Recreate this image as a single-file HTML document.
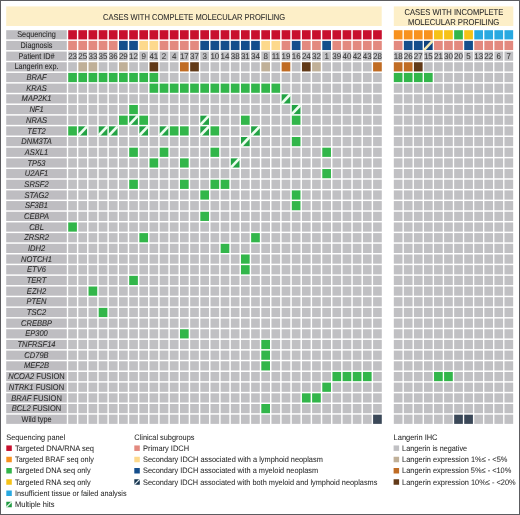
<!DOCTYPE html>
<html><head><meta charset="utf-8"><style>
html,body{margin:0;padding:0;background:#fff;}
body{width:520px;height:515px;overflow:hidden;}
svg{display:block;font-family:"Liberation Sans",sans-serif;will-change:transform;text-rendering:geometricPrecision;}
</style></head><body>
<svg width="520" height="515" viewBox="0 0 520 515">
<rect x="0" y="0" width="520" height="515" fill="#ffffff"/>
<rect x="6.2" y="6.4" width="375.5" height="19.6" fill="#fdefc8"/>
<rect x="393.8" y="6.4" width="119.5" height="19.6" fill="#fdefc8"/>
<rect x="6.2" y="30.2" width="60.6" height="9.2" fill="#bebdc1"/>
<rect x="68.2" y="30.2" width="8.7" height="9.2" fill="#c8102e"/>
<rect x="78.36" y="30.2" width="8.7" height="9.2" fill="#c8102e"/>
<rect x="88.53" y="30.2" width="8.7" height="9.2" fill="#c8102e"/>
<rect x="98.69" y="30.2" width="8.7" height="9.2" fill="#c8102e"/>
<rect x="108.85" y="30.2" width="8.7" height="9.2" fill="#c8102e"/>
<rect x="119.02" y="30.2" width="8.7" height="9.2" fill="#c8102e"/>
<rect x="129.18" y="30.2" width="8.7" height="9.2" fill="#c8102e"/>
<rect x="139.34" y="30.2" width="8.7" height="9.2" fill="#c8102e"/>
<rect x="149.5" y="30.2" width="8.7" height="9.2" fill="#c8102e"/>
<rect x="159.67" y="30.2" width="8.7" height="9.2" fill="#c8102e"/>
<rect x="169.83" y="30.2" width="8.7" height="9.2" fill="#c8102e"/>
<rect x="179.99" y="30.2" width="8.7" height="9.2" fill="#c8102e"/>
<rect x="190.16" y="30.2" width="8.7" height="9.2" fill="#c8102e"/>
<rect x="200.32" y="30.2" width="8.7" height="9.2" fill="#c8102e"/>
<rect x="210.48" y="30.2" width="8.7" height="9.2" fill="#c8102e"/>
<rect x="220.64" y="30.2" width="8.7" height="9.2" fill="#c8102e"/>
<rect x="230.81" y="30.2" width="8.7" height="9.2" fill="#c8102e"/>
<rect x="240.97" y="30.2" width="8.7" height="9.2" fill="#c8102e"/>
<rect x="251.13" y="30.2" width="8.7" height="9.2" fill="#c8102e"/>
<rect x="261.3" y="30.2" width="8.7" height="9.2" fill="#c8102e"/>
<rect x="271.46" y="30.2" width="8.7" height="9.2" fill="#c8102e"/>
<rect x="281.62" y="30.2" width="8.7" height="9.2" fill="#c8102e"/>
<rect x="291.79" y="30.2" width="8.7" height="9.2" fill="#c8102e"/>
<rect x="301.95" y="30.2" width="8.7" height="9.2" fill="#c8102e"/>
<rect x="312.11" y="30.2" width="8.7" height="9.2" fill="#c8102e"/>
<rect x="322.28" y="30.2" width="8.7" height="9.2" fill="#c8102e"/>
<rect x="332.44" y="30.2" width="8.7" height="9.2" fill="#c8102e"/>
<rect x="342.6" y="30.2" width="8.7" height="9.2" fill="#c8102e"/>
<rect x="352.76" y="30.2" width="8.7" height="9.2" fill="#c8102e"/>
<rect x="362.93" y="30.2" width="8.7" height="9.2" fill="#c8102e"/>
<rect x="373.09" y="30.2" width="8.7" height="9.2" fill="#c8102e"/>
<rect x="393.8" y="30.2" width="8.7" height="9.2" fill="#f8921f"/>
<rect x="403.86" y="30.2" width="8.7" height="9.2" fill="#f8921f"/>
<rect x="413.92" y="30.2" width="8.7" height="9.2" fill="#f8921f"/>
<rect x="423.98" y="30.2" width="8.7" height="9.2" fill="#f8921f"/>
<rect x="434.04" y="30.2" width="8.7" height="9.2" fill="#f6c217"/>
<rect x="444.1" y="30.2" width="8.7" height="9.2" fill="#f6c217"/>
<rect x="454.16" y="30.2" width="8.7" height="9.2" fill="#32b64a"/>
<rect x="464.22" y="30.2" width="8.7" height="9.2" fill="#f6c217"/>
<rect x="474.28" y="30.2" width="8.7" height="9.2" fill="#28a9e1"/>
<rect x="484.34" y="30.2" width="8.7" height="9.2" fill="#28a9e1"/>
<rect x="494.4" y="30.2" width="8.7" height="9.2" fill="#28a9e1"/>
<rect x="504.46" y="30.2" width="8.7" height="9.2" fill="#28a9e1"/>
<rect x="6.2" y="40.88" width="60.6" height="9.2" fill="#bebdc1"/>
<rect x="68.2" y="40.88" width="8.7" height="9.2" fill="#e3897f"/>
<rect x="78.36" y="40.88" width="8.7" height="9.2" fill="#e3897f"/>
<rect x="88.53" y="40.88" width="8.7" height="9.2" fill="#e3897f"/>
<rect x="98.69" y="40.88" width="8.7" height="9.2" fill="#e3897f"/>
<rect x="108.85" y="40.88" width="8.7" height="9.2" fill="#e3897f"/>
<rect x="119.02" y="40.88" width="8.7" height="9.2" fill="#144e8c"/>
<rect x="129.18" y="40.88" width="8.7" height="9.2" fill="#144e8c"/>
<rect x="139.34" y="40.88" width="8.7" height="9.2" fill="#fdd98c"/>
<rect x="149.5" y="40.88" width="8.7" height="9.2" fill="#fdd98c"/>
<rect x="159.67" y="40.88" width="8.7" height="9.2" fill="#e3897f"/>
<rect x="169.83" y="40.88" width="8.7" height="9.2" fill="#e3897f"/>
<rect x="179.99" y="40.88" width="8.7" height="9.2" fill="#e3897f"/>
<rect x="190.16" y="40.88" width="8.7" height="9.2" fill="#e3897f"/>
<rect x="200.32" y="40.88" width="8.7" height="9.2" fill="#144e8c"/>
<rect x="210.48" y="40.88" width="8.7" height="9.2" fill="#144e8c"/>
<rect x="220.64" y="40.88" width="8.7" height="9.2" fill="#144e8c"/>
<rect x="230.81" y="40.88" width="8.7" height="9.2" fill="#144e8c"/>
<rect x="240.97" y="40.88" width="8.7" height="9.2" fill="#144e8c"/>
<rect x="251.13" y="40.88" width="8.7" height="9.2" fill="#144e8c"/>
<rect x="261.3" y="40.88" width="8.7" height="9.2" fill="#fdd98c"/>
<rect x="271.46" y="40.88" width="8.7" height="9.2" fill="#fdd98c"/>
<rect x="281.62" y="40.88" width="8.7" height="9.2" fill="#e3897f"/>
<rect x="291.79" y="40.88" width="8.7" height="9.2" fill="#144e8c"/>
<rect x="301.95" y="40.88" width="8.7" height="9.2" fill="#e3897f"/>
<rect x="312.11" y="40.88" width="8.7" height="9.2" fill="#e3897f"/>
<rect x="322.28" y="40.88" width="8.7" height="9.2" fill="#144e8c"/>
<rect x="332.44" y="40.88" width="8.7" height="9.2" fill="#e3897f"/>
<rect x="342.6" y="40.88" width="8.7" height="9.2" fill="#e3897f"/>
<rect x="352.76" y="40.88" width="8.7" height="9.2" fill="#e3897f"/>
<rect x="362.93" y="40.88" width="8.7" height="9.2" fill="#e3897f"/>
<rect x="373.09" y="40.88" width="8.7" height="9.2" fill="#e3897f"/>
<rect x="393.8" y="40.88" width="8.7" height="9.2" fill="#e3897f"/>
<rect x="403.86" y="40.88" width="8.7" height="9.2" fill="#144e8c"/>
<rect x="413.92" y="40.88" width="8.7" height="9.2" fill="#144e8c"/>
<rect x="423.98" y="40.88" width="8.7" height="9.2" fill="#0f427c"/>
<line x1="423.98" y1="50.08" x2="432.68" y2="40.88" stroke="#f5e8b2" stroke-width="2.5"/>
<rect x="434.04" y="40.88" width="8.7" height="9.2" fill="#e3897f"/>
<rect x="444.1" y="40.88" width="8.7" height="9.2" fill="#e3897f"/>
<rect x="454.16" y="40.88" width="8.7" height="9.2" fill="#e3897f"/>
<rect x="464.22" y="40.88" width="8.7" height="9.2" fill="#144e8c"/>
<rect x="474.28" y="40.88" width="8.7" height="9.2" fill="#e3897f"/>
<rect x="484.34" y="40.88" width="8.7" height="9.2" fill="#e3897f"/>
<rect x="494.4" y="40.88" width="8.7" height="9.2" fill="#e3897f"/>
<rect x="504.46" y="40.88" width="8.7" height="9.2" fill="#e3897f"/>
<rect x="6.2" y="51.56" width="60.6" height="9.2" fill="#bebdc1"/>
<rect x="68.2" y="51.56" width="8.7" height="9.2" fill="#c0c0c3"/>
<rect x="78.36" y="51.56" width="8.7" height="9.2" fill="#c0c0c3"/>
<rect x="88.53" y="51.56" width="8.7" height="9.2" fill="#c0c0c3"/>
<rect x="98.69" y="51.56" width="8.7" height="9.2" fill="#c0c0c3"/>
<rect x="108.85" y="51.56" width="8.7" height="9.2" fill="#c0c0c3"/>
<rect x="119.02" y="51.56" width="8.7" height="9.2" fill="#c0c0c3"/>
<rect x="129.18" y="51.56" width="8.7" height="9.2" fill="#c0c0c3"/>
<rect x="139.34" y="51.56" width="8.7" height="9.2" fill="#c0c0c3"/>
<rect x="149.5" y="51.56" width="8.7" height="9.2" fill="#c0c0c3"/>
<rect x="159.67" y="51.56" width="8.7" height="9.2" fill="#c0c0c3"/>
<rect x="169.83" y="51.56" width="8.7" height="9.2" fill="#c0c0c3"/>
<rect x="179.99" y="51.56" width="8.7" height="9.2" fill="#c0c0c3"/>
<rect x="190.16" y="51.56" width="8.7" height="9.2" fill="#c0c0c3"/>
<rect x="200.32" y="51.56" width="8.7" height="9.2" fill="#c0c0c3"/>
<rect x="210.48" y="51.56" width="8.7" height="9.2" fill="#c0c0c3"/>
<rect x="220.64" y="51.56" width="8.7" height="9.2" fill="#c0c0c3"/>
<rect x="230.81" y="51.56" width="8.7" height="9.2" fill="#c0c0c3"/>
<rect x="240.97" y="51.56" width="8.7" height="9.2" fill="#c0c0c3"/>
<rect x="251.13" y="51.56" width="8.7" height="9.2" fill="#c0c0c3"/>
<rect x="261.3" y="51.56" width="8.7" height="9.2" fill="#c0c0c3"/>
<rect x="271.46" y="51.56" width="8.7" height="9.2" fill="#c0c0c3"/>
<rect x="281.62" y="51.56" width="8.7" height="9.2" fill="#c0c0c3"/>
<rect x="291.79" y="51.56" width="8.7" height="9.2" fill="#c0c0c3"/>
<rect x="301.95" y="51.56" width="8.7" height="9.2" fill="#c0c0c3"/>
<rect x="312.11" y="51.56" width="8.7" height="9.2" fill="#c0c0c3"/>
<rect x="322.28" y="51.56" width="8.7" height="9.2" fill="#c0c0c3"/>
<rect x="332.44" y="51.56" width="8.7" height="9.2" fill="#c0c0c3"/>
<rect x="342.6" y="51.56" width="8.7" height="9.2" fill="#c0c0c3"/>
<rect x="352.76" y="51.56" width="8.7" height="9.2" fill="#c0c0c3"/>
<rect x="362.93" y="51.56" width="8.7" height="9.2" fill="#c0c0c3"/>
<rect x="373.09" y="51.56" width="8.7" height="9.2" fill="#c0c0c3"/>
<rect x="393.8" y="51.56" width="8.7" height="9.2" fill="#c0c0c3"/>
<rect x="403.86" y="51.56" width="8.7" height="9.2" fill="#c0c0c3"/>
<rect x="413.92" y="51.56" width="8.7" height="9.2" fill="#c0c0c3"/>
<rect x="423.98" y="51.56" width="8.7" height="9.2" fill="#c0c0c3"/>
<rect x="434.04" y="51.56" width="8.7" height="9.2" fill="#c0c0c3"/>
<rect x="444.1" y="51.56" width="8.7" height="9.2" fill="#c0c0c3"/>
<rect x="454.16" y="51.56" width="8.7" height="9.2" fill="#c0c0c3"/>
<rect x="464.22" y="51.56" width="8.7" height="9.2" fill="#c0c0c3"/>
<rect x="474.28" y="51.56" width="8.7" height="9.2" fill="#c0c0c3"/>
<rect x="484.34" y="51.56" width="8.7" height="9.2" fill="#c0c0c3"/>
<rect x="494.4" y="51.56" width="8.7" height="9.2" fill="#c0c0c3"/>
<rect x="504.46" y="51.56" width="8.7" height="9.2" fill="#c0c0c3"/>
<rect x="6.2" y="62.24" width="60.6" height="9.2" fill="#bebdc1"/>
<rect x="68.2" y="62.24" width="8.7" height="9.2" fill="#c0c0c3"/>
<rect x="78.36" y="62.24" width="8.7" height="9.2" fill="#c0b098"/>
<rect x="88.53" y="62.24" width="8.7" height="9.2" fill="#c0b098"/>
<rect x="98.69" y="62.24" width="8.7" height="9.2" fill="#c0c0c3"/>
<rect x="108.85" y="62.24" width="8.7" height="9.2" fill="#c0c0c3"/>
<rect x="119.02" y="62.24" width="8.7" height="9.2" fill="#c0b098"/>
<rect x="129.18" y="62.24" width="8.7" height="9.2" fill="#c0c0c3"/>
<rect x="139.34" y="62.24" width="8.7" height="9.2" fill="#c0c0c3"/>
<rect x="149.5" y="62.24" width="8.7" height="9.2" fill="#623a18"/>
<rect x="159.67" y="62.24" width="8.7" height="9.2" fill="#c0c0c3"/>
<rect x="169.83" y="62.24" width="8.7" height="9.2" fill="#c0c0c3"/>
<rect x="179.99" y="62.24" width="8.7" height="9.2" fill="#c06c24"/>
<rect x="190.16" y="62.24" width="8.7" height="9.2" fill="#623a18"/>
<rect x="200.32" y="62.24" width="8.7" height="9.2" fill="#c0c0c3"/>
<rect x="210.48" y="62.24" width="8.7" height="9.2" fill="#c0c0c3"/>
<rect x="220.64" y="62.24" width="8.7" height="9.2" fill="#c0c0c3"/>
<rect x="230.81" y="62.24" width="8.7" height="9.2" fill="#c0c0c3"/>
<rect x="240.97" y="62.24" width="8.7" height="9.2" fill="#c0c0c3"/>
<rect x="251.13" y="62.24" width="8.7" height="9.2" fill="#c0c0c3"/>
<rect x="261.3" y="62.24" width="8.7" height="9.2" fill="#c0b098"/>
<rect x="271.46" y="62.24" width="8.7" height="9.2" fill="#c0c0c3"/>
<rect x="281.62" y="62.24" width="8.7" height="9.2" fill="#c06c24"/>
<rect x="291.79" y="62.24" width="8.7" height="9.2" fill="#c0c0c3"/>
<rect x="301.95" y="62.24" width="8.7" height="9.2" fill="#623a18"/>
<rect x="312.11" y="62.24" width="8.7" height="9.2" fill="#c0b098"/>
<rect x="322.28" y="62.24" width="8.7" height="9.2" fill="#c0c0c3"/>
<rect x="332.44" y="62.24" width="8.7" height="9.2" fill="#c0c0c3"/>
<rect x="342.6" y="62.24" width="8.7" height="9.2" fill="#c0c0c3"/>
<rect x="352.76" y="62.24" width="8.7" height="9.2" fill="#c0c0c3"/>
<rect x="362.93" y="62.24" width="8.7" height="9.2" fill="#c0c0c3"/>
<rect x="373.09" y="62.24" width="8.7" height="9.2" fill="#c06c24"/>
<rect x="393.8" y="62.24" width="8.7" height="9.2" fill="#c06c24"/>
<rect x="403.86" y="62.24" width="8.7" height="9.2" fill="#c06c24"/>
<rect x="413.92" y="62.24" width="8.7" height="9.2" fill="#623a18"/>
<rect x="423.98" y="62.24" width="8.7" height="9.2" fill="#c0c0c3"/>
<rect x="434.04" y="62.24" width="8.7" height="9.2" fill="#c0c0c3"/>
<rect x="444.1" y="62.24" width="8.7" height="9.2" fill="#c0c0c3"/>
<rect x="454.16" y="62.24" width="8.7" height="9.2" fill="#c0c0c3"/>
<rect x="464.22" y="62.24" width="8.7" height="9.2" fill="#c0c0c3"/>
<rect x="474.28" y="62.24" width="8.7" height="9.2" fill="#c0c0c3"/>
<rect x="484.34" y="62.24" width="8.7" height="9.2" fill="#c0c0c3"/>
<rect x="494.4" y="62.24" width="8.7" height="9.2" fill="#c0c0c3"/>
<rect x="504.46" y="62.24" width="8.7" height="9.2" fill="#c0c0c3"/>
<rect x="6.2" y="72.92" width="60.6" height="9.2" fill="#bebdc1"/>
<rect x="68.2" y="72.92" width="8.7" height="9.2" fill="#32b64a"/>
<rect x="78.36" y="72.92" width="8.7" height="9.2" fill="#32b64a"/>
<rect x="88.53" y="72.92" width="8.7" height="9.2" fill="#32b64a"/>
<rect x="98.69" y="72.92" width="8.7" height="9.2" fill="#32b64a"/>
<rect x="108.85" y="72.92" width="8.7" height="9.2" fill="#32b64a"/>
<rect x="119.02" y="72.92" width="8.7" height="9.2" fill="#32b64a"/>
<rect x="129.18" y="72.92" width="8.7" height="9.2" fill="#32b64a"/>
<rect x="139.34" y="72.92" width="8.7" height="9.2" fill="#32b64a"/>
<rect x="149.5" y="72.92" width="8.7" height="9.2" fill="#32b64a"/>
<rect x="159.67" y="72.92" width="8.7" height="9.2" fill="#c0c0c3"/>
<rect x="169.83" y="72.92" width="8.7" height="9.2" fill="#c0c0c3"/>
<rect x="179.99" y="72.92" width="8.7" height="9.2" fill="#c0c0c3"/>
<rect x="190.16" y="72.92" width="8.7" height="9.2" fill="#c0c0c3"/>
<rect x="200.32" y="72.92" width="8.7" height="9.2" fill="#c0c0c3"/>
<rect x="210.48" y="72.92" width="8.7" height="9.2" fill="#c0c0c3"/>
<rect x="220.64" y="72.92" width="8.7" height="9.2" fill="#c0c0c3"/>
<rect x="230.81" y="72.92" width="8.7" height="9.2" fill="#c0c0c3"/>
<rect x="240.97" y="72.92" width="8.7" height="9.2" fill="#c0c0c3"/>
<rect x="251.13" y="72.92" width="8.7" height="9.2" fill="#c0c0c3"/>
<rect x="261.3" y="72.92" width="8.7" height="9.2" fill="#c0c0c3"/>
<rect x="271.46" y="72.92" width="8.7" height="9.2" fill="#c0c0c3"/>
<rect x="281.62" y="72.92" width="8.7" height="9.2" fill="#c0c0c3"/>
<rect x="291.79" y="72.92" width="8.7" height="9.2" fill="#c0c0c3"/>
<rect x="301.95" y="72.92" width="8.7" height="9.2" fill="#c0c0c3"/>
<rect x="312.11" y="72.92" width="8.7" height="9.2" fill="#c0c0c3"/>
<rect x="322.28" y="72.92" width="8.7" height="9.2" fill="#c0c0c3"/>
<rect x="332.44" y="72.92" width="8.7" height="9.2" fill="#c0c0c3"/>
<rect x="342.6" y="72.92" width="8.7" height="9.2" fill="#c0c0c3"/>
<rect x="352.76" y="72.92" width="8.7" height="9.2" fill="#c0c0c3"/>
<rect x="362.93" y="72.92" width="8.7" height="9.2" fill="#c0c0c3"/>
<rect x="373.09" y="72.92" width="8.7" height="9.2" fill="#c0c0c3"/>
<rect x="393.8" y="72.92" width="8.7" height="9.2" fill="#32b64a"/>
<rect x="403.86" y="72.92" width="8.7" height="9.2" fill="#32b64a"/>
<rect x="413.92" y="72.92" width="8.7" height="9.2" fill="#32b64a"/>
<rect x="423.98" y="72.92" width="8.7" height="9.2" fill="#32b64a"/>
<rect x="434.04" y="72.92" width="8.7" height="9.2" fill="#c0c0c3"/>
<rect x="444.1" y="72.92" width="8.7" height="9.2" fill="#c0c0c3"/>
<rect x="454.16" y="72.92" width="8.7" height="9.2" fill="#c0c0c3"/>
<rect x="464.22" y="72.92" width="8.7" height="9.2" fill="#c0c0c3"/>
<rect x="474.28" y="72.92" width="8.7" height="9.2" fill="#c0c0c3"/>
<rect x="484.34" y="72.92" width="8.7" height="9.2" fill="#c0c0c3"/>
<rect x="494.4" y="72.92" width="8.7" height="9.2" fill="#c0c0c3"/>
<rect x="504.46" y="72.92" width="8.7" height="9.2" fill="#c0c0c3"/>
<rect x="6.2" y="83.6" width="60.6" height="9.2" fill="#bebdc1"/>
<rect x="68.2" y="83.6" width="8.7" height="9.2" fill="#c0c0c3"/>
<rect x="78.36" y="83.6" width="8.7" height="9.2" fill="#c0c0c3"/>
<rect x="88.53" y="83.6" width="8.7" height="9.2" fill="#c0c0c3"/>
<rect x="98.69" y="83.6" width="8.7" height="9.2" fill="#c0c0c3"/>
<rect x="108.85" y="83.6" width="8.7" height="9.2" fill="#c0c0c3"/>
<rect x="119.02" y="83.6" width="8.7" height="9.2" fill="#c0c0c3"/>
<rect x="129.18" y="83.6" width="8.7" height="9.2" fill="#c0c0c3"/>
<rect x="139.34" y="83.6" width="8.7" height="9.2" fill="#c0c0c3"/>
<rect x="149.5" y="83.6" width="8.7" height="9.2" fill="#32b64a"/>
<rect x="159.67" y="83.6" width="8.7" height="9.2" fill="#32b64a"/>
<rect x="169.83" y="83.6" width="8.7" height="9.2" fill="#32b64a"/>
<rect x="179.99" y="83.6" width="8.7" height="9.2" fill="#32b64a"/>
<rect x="190.16" y="83.6" width="8.7" height="9.2" fill="#32b64a"/>
<rect x="200.32" y="83.6" width="8.7" height="9.2" fill="#32b64a"/>
<rect x="210.48" y="83.6" width="8.7" height="9.2" fill="#32b64a"/>
<rect x="220.64" y="83.6" width="8.7" height="9.2" fill="#32b64a"/>
<rect x="230.81" y="83.6" width="8.7" height="9.2" fill="#32b64a"/>
<rect x="240.97" y="83.6" width="8.7" height="9.2" fill="#32b64a"/>
<rect x="251.13" y="83.6" width="8.7" height="9.2" fill="#32b64a"/>
<rect x="261.3" y="83.6" width="8.7" height="9.2" fill="#32b64a"/>
<rect x="271.46" y="83.6" width="8.7" height="9.2" fill="#32b64a"/>
<rect x="281.62" y="83.6" width="8.7" height="9.2" fill="#c0c0c3"/>
<rect x="291.79" y="83.6" width="8.7" height="9.2" fill="#c0c0c3"/>
<rect x="301.95" y="83.6" width="8.7" height="9.2" fill="#c0c0c3"/>
<rect x="312.11" y="83.6" width="8.7" height="9.2" fill="#c0c0c3"/>
<rect x="322.28" y="83.6" width="8.7" height="9.2" fill="#c0c0c3"/>
<rect x="332.44" y="83.6" width="8.7" height="9.2" fill="#c0c0c3"/>
<rect x="342.6" y="83.6" width="8.7" height="9.2" fill="#c0c0c3"/>
<rect x="352.76" y="83.6" width="8.7" height="9.2" fill="#c0c0c3"/>
<rect x="362.93" y="83.6" width="8.7" height="9.2" fill="#c0c0c3"/>
<rect x="373.09" y="83.6" width="8.7" height="9.2" fill="#c0c0c3"/>
<rect x="393.8" y="83.6" width="8.7" height="9.2" fill="#c0c0c3"/>
<rect x="403.86" y="83.6" width="8.7" height="9.2" fill="#c0c0c3"/>
<rect x="413.92" y="83.6" width="8.7" height="9.2" fill="#c0c0c3"/>
<rect x="423.98" y="83.6" width="8.7" height="9.2" fill="#c0c0c3"/>
<rect x="434.04" y="83.6" width="8.7" height="9.2" fill="#c0c0c3"/>
<rect x="444.1" y="83.6" width="8.7" height="9.2" fill="#c0c0c3"/>
<rect x="454.16" y="83.6" width="8.7" height="9.2" fill="#c0c0c3"/>
<rect x="464.22" y="83.6" width="8.7" height="9.2" fill="#c0c0c3"/>
<rect x="474.28" y="83.6" width="8.7" height="9.2" fill="#c0c0c3"/>
<rect x="484.34" y="83.6" width="8.7" height="9.2" fill="#c0c0c3"/>
<rect x="494.4" y="83.6" width="8.7" height="9.2" fill="#c0c0c3"/>
<rect x="504.46" y="83.6" width="8.7" height="9.2" fill="#c0c0c3"/>
<rect x="6.2" y="94.28" width="60.6" height="9.2" fill="#bebdc1"/>
<rect x="68.2" y="94.28" width="8.7" height="9.2" fill="#c0c0c3"/>
<rect x="78.36" y="94.28" width="8.7" height="9.2" fill="#c0c0c3"/>
<rect x="88.53" y="94.28" width="8.7" height="9.2" fill="#c0c0c3"/>
<rect x="98.69" y="94.28" width="8.7" height="9.2" fill="#c0c0c3"/>
<rect x="108.85" y="94.28" width="8.7" height="9.2" fill="#c0c0c3"/>
<rect x="119.02" y="94.28" width="8.7" height="9.2" fill="#c0c0c3"/>
<rect x="129.18" y="94.28" width="8.7" height="9.2" fill="#c0c0c3"/>
<rect x="139.34" y="94.28" width="8.7" height="9.2" fill="#c0c0c3"/>
<rect x="149.5" y="94.28" width="8.7" height="9.2" fill="#c0c0c3"/>
<rect x="159.67" y="94.28" width="8.7" height="9.2" fill="#c0c0c3"/>
<rect x="169.83" y="94.28" width="8.7" height="9.2" fill="#c0c0c3"/>
<rect x="179.99" y="94.28" width="8.7" height="9.2" fill="#c0c0c3"/>
<rect x="190.16" y="94.28" width="8.7" height="9.2" fill="#c0c0c3"/>
<rect x="200.32" y="94.28" width="8.7" height="9.2" fill="#c0c0c3"/>
<rect x="210.48" y="94.28" width="8.7" height="9.2" fill="#c0c0c3"/>
<rect x="220.64" y="94.28" width="8.7" height="9.2" fill="#c0c0c3"/>
<rect x="230.81" y="94.28" width="8.7" height="9.2" fill="#c0c0c3"/>
<rect x="240.97" y="94.28" width="8.7" height="9.2" fill="#c0c0c3"/>
<rect x="251.13" y="94.28" width="8.7" height="9.2" fill="#c0c0c3"/>
<rect x="261.3" y="94.28" width="8.7" height="9.2" fill="#c0c0c3"/>
<rect x="271.46" y="94.28" width="8.7" height="9.2" fill="#c0c0c3"/>
<rect x="281.62" y="94.28" width="8.7" height="9.2" fill="#22a244"/>
<line x1="281.62" y1="103.48" x2="290.32" y2="94.28" stroke="#eefbef" stroke-width="2.7"/>
<rect x="291.79" y="94.28" width="8.7" height="9.2" fill="#c0c0c3"/>
<rect x="301.95" y="94.28" width="8.7" height="9.2" fill="#c0c0c3"/>
<rect x="312.11" y="94.28" width="8.7" height="9.2" fill="#c0c0c3"/>
<rect x="322.28" y="94.28" width="8.7" height="9.2" fill="#c0c0c3"/>
<rect x="332.44" y="94.28" width="8.7" height="9.2" fill="#c0c0c3"/>
<rect x="342.6" y="94.28" width="8.7" height="9.2" fill="#c0c0c3"/>
<rect x="352.76" y="94.28" width="8.7" height="9.2" fill="#c0c0c3"/>
<rect x="362.93" y="94.28" width="8.7" height="9.2" fill="#c0c0c3"/>
<rect x="373.09" y="94.28" width="8.7" height="9.2" fill="#c0c0c3"/>
<rect x="393.8" y="94.28" width="8.7" height="9.2" fill="#c0c0c3"/>
<rect x="403.86" y="94.28" width="8.7" height="9.2" fill="#c0c0c3"/>
<rect x="413.92" y="94.28" width="8.7" height="9.2" fill="#c0c0c3"/>
<rect x="423.98" y="94.28" width="8.7" height="9.2" fill="#c0c0c3"/>
<rect x="434.04" y="94.28" width="8.7" height="9.2" fill="#c0c0c3"/>
<rect x="444.1" y="94.28" width="8.7" height="9.2" fill="#c0c0c3"/>
<rect x="454.16" y="94.28" width="8.7" height="9.2" fill="#c0c0c3"/>
<rect x="464.22" y="94.28" width="8.7" height="9.2" fill="#c0c0c3"/>
<rect x="474.28" y="94.28" width="8.7" height="9.2" fill="#c0c0c3"/>
<rect x="484.34" y="94.28" width="8.7" height="9.2" fill="#c0c0c3"/>
<rect x="494.4" y="94.28" width="8.7" height="9.2" fill="#c0c0c3"/>
<rect x="504.46" y="94.28" width="8.7" height="9.2" fill="#c0c0c3"/>
<rect x="6.2" y="104.96" width="60.6" height="9.2" fill="#bebdc1"/>
<rect x="68.2" y="104.96" width="8.7" height="9.2" fill="#c0c0c3"/>
<rect x="78.36" y="104.96" width="8.7" height="9.2" fill="#c0c0c3"/>
<rect x="88.53" y="104.96" width="8.7" height="9.2" fill="#c0c0c3"/>
<rect x="98.69" y="104.96" width="8.7" height="9.2" fill="#c0c0c3"/>
<rect x="108.85" y="104.96" width="8.7" height="9.2" fill="#c0c0c3"/>
<rect x="119.02" y="104.96" width="8.7" height="9.2" fill="#c0c0c3"/>
<rect x="129.18" y="104.96" width="8.7" height="9.2" fill="#32b64a"/>
<rect x="139.34" y="104.96" width="8.7" height="9.2" fill="#c0c0c3"/>
<rect x="149.5" y="104.96" width="8.7" height="9.2" fill="#c0c0c3"/>
<rect x="159.67" y="104.96" width="8.7" height="9.2" fill="#c0c0c3"/>
<rect x="169.83" y="104.96" width="8.7" height="9.2" fill="#c0c0c3"/>
<rect x="179.99" y="104.96" width="8.7" height="9.2" fill="#c0c0c3"/>
<rect x="190.16" y="104.96" width="8.7" height="9.2" fill="#c0c0c3"/>
<rect x="200.32" y="104.96" width="8.7" height="9.2" fill="#c0c0c3"/>
<rect x="210.48" y="104.96" width="8.7" height="9.2" fill="#c0c0c3"/>
<rect x="220.64" y="104.96" width="8.7" height="9.2" fill="#c0c0c3"/>
<rect x="230.81" y="104.96" width="8.7" height="9.2" fill="#c0c0c3"/>
<rect x="240.97" y="104.96" width="8.7" height="9.2" fill="#c0c0c3"/>
<rect x="251.13" y="104.96" width="8.7" height="9.2" fill="#c0c0c3"/>
<rect x="261.3" y="104.96" width="8.7" height="9.2" fill="#c0c0c3"/>
<rect x="271.46" y="104.96" width="8.7" height="9.2" fill="#c0c0c3"/>
<rect x="281.62" y="104.96" width="8.7" height="9.2" fill="#c0c0c3"/>
<rect x="291.79" y="104.96" width="8.7" height="9.2" fill="#22a244"/>
<line x1="291.79" y1="114.16" x2="300.49" y2="104.96" stroke="#eefbef" stroke-width="2.7"/>
<rect x="301.95" y="104.96" width="8.7" height="9.2" fill="#c0c0c3"/>
<rect x="312.11" y="104.96" width="8.7" height="9.2" fill="#c0c0c3"/>
<rect x="322.28" y="104.96" width="8.7" height="9.2" fill="#c0c0c3"/>
<rect x="332.44" y="104.96" width="8.7" height="9.2" fill="#c0c0c3"/>
<rect x="342.6" y="104.96" width="8.7" height="9.2" fill="#c0c0c3"/>
<rect x="352.76" y="104.96" width="8.7" height="9.2" fill="#c0c0c3"/>
<rect x="362.93" y="104.96" width="8.7" height="9.2" fill="#c0c0c3"/>
<rect x="373.09" y="104.96" width="8.7" height="9.2" fill="#c0c0c3"/>
<rect x="393.8" y="104.96" width="8.7" height="9.2" fill="#c0c0c3"/>
<rect x="403.86" y="104.96" width="8.7" height="9.2" fill="#c0c0c3"/>
<rect x="413.92" y="104.96" width="8.7" height="9.2" fill="#c0c0c3"/>
<rect x="423.98" y="104.96" width="8.7" height="9.2" fill="#c0c0c3"/>
<rect x="434.04" y="104.96" width="8.7" height="9.2" fill="#c0c0c3"/>
<rect x="444.1" y="104.96" width="8.7" height="9.2" fill="#c0c0c3"/>
<rect x="454.16" y="104.96" width="8.7" height="9.2" fill="#c0c0c3"/>
<rect x="464.22" y="104.96" width="8.7" height="9.2" fill="#c0c0c3"/>
<rect x="474.28" y="104.96" width="8.7" height="9.2" fill="#c0c0c3"/>
<rect x="484.34" y="104.96" width="8.7" height="9.2" fill="#c0c0c3"/>
<rect x="494.4" y="104.96" width="8.7" height="9.2" fill="#c0c0c3"/>
<rect x="504.46" y="104.96" width="8.7" height="9.2" fill="#c0c0c3"/>
<rect x="6.2" y="115.64" width="60.6" height="9.2" fill="#bebdc1"/>
<rect x="68.2" y="115.64" width="8.7" height="9.2" fill="#c0c0c3"/>
<rect x="78.36" y="115.64" width="8.7" height="9.2" fill="#c0c0c3"/>
<rect x="88.53" y="115.64" width="8.7" height="9.2" fill="#c0c0c3"/>
<rect x="98.69" y="115.64" width="8.7" height="9.2" fill="#c0c0c3"/>
<rect x="108.85" y="115.64" width="8.7" height="9.2" fill="#c0c0c3"/>
<rect x="119.02" y="115.64" width="8.7" height="9.2" fill="#32b64a"/>
<rect x="129.18" y="115.64" width="8.7" height="9.2" fill="#22a244"/>
<line x1="129.18" y1="124.84" x2="137.88" y2="115.64" stroke="#eefbef" stroke-width="2.7"/>
<rect x="139.34" y="115.64" width="8.7" height="9.2" fill="#32b64a"/>
<rect x="149.5" y="115.64" width="8.7" height="9.2" fill="#c0c0c3"/>
<rect x="159.67" y="115.64" width="8.7" height="9.2" fill="#c0c0c3"/>
<rect x="169.83" y="115.64" width="8.7" height="9.2" fill="#c0c0c3"/>
<rect x="179.99" y="115.64" width="8.7" height="9.2" fill="#c0c0c3"/>
<rect x="190.16" y="115.64" width="8.7" height="9.2" fill="#c0c0c3"/>
<rect x="200.32" y="115.64" width="8.7" height="9.2" fill="#22a244"/>
<line x1="200.32" y1="124.84" x2="209.02" y2="115.64" stroke="#eefbef" stroke-width="2.7"/>
<rect x="210.48" y="115.64" width="8.7" height="9.2" fill="#c0c0c3"/>
<rect x="220.64" y="115.64" width="8.7" height="9.2" fill="#c0c0c3"/>
<rect x="230.81" y="115.64" width="8.7" height="9.2" fill="#c0c0c3"/>
<rect x="240.97" y="115.64" width="8.7" height="9.2" fill="#32b64a"/>
<rect x="251.13" y="115.64" width="8.7" height="9.2" fill="#c0c0c3"/>
<rect x="261.3" y="115.64" width="8.7" height="9.2" fill="#c0c0c3"/>
<rect x="271.46" y="115.64" width="8.7" height="9.2" fill="#c0c0c3"/>
<rect x="281.62" y="115.64" width="8.7" height="9.2" fill="#c0c0c3"/>
<rect x="291.79" y="115.64" width="8.7" height="9.2" fill="#32b64a"/>
<rect x="301.95" y="115.64" width="8.7" height="9.2" fill="#c0c0c3"/>
<rect x="312.11" y="115.64" width="8.7" height="9.2" fill="#c0c0c3"/>
<rect x="322.28" y="115.64" width="8.7" height="9.2" fill="#c0c0c3"/>
<rect x="332.44" y="115.64" width="8.7" height="9.2" fill="#c0c0c3"/>
<rect x="342.6" y="115.64" width="8.7" height="9.2" fill="#c0c0c3"/>
<rect x="352.76" y="115.64" width="8.7" height="9.2" fill="#c0c0c3"/>
<rect x="362.93" y="115.64" width="8.7" height="9.2" fill="#c0c0c3"/>
<rect x="373.09" y="115.64" width="8.7" height="9.2" fill="#c0c0c3"/>
<rect x="393.8" y="115.64" width="8.7" height="9.2" fill="#c0c0c3"/>
<rect x="403.86" y="115.64" width="8.7" height="9.2" fill="#c0c0c3"/>
<rect x="413.92" y="115.64" width="8.7" height="9.2" fill="#c0c0c3"/>
<rect x="423.98" y="115.64" width="8.7" height="9.2" fill="#c0c0c3"/>
<rect x="434.04" y="115.64" width="8.7" height="9.2" fill="#c0c0c3"/>
<rect x="444.1" y="115.64" width="8.7" height="9.2" fill="#c0c0c3"/>
<rect x="454.16" y="115.64" width="8.7" height="9.2" fill="#c0c0c3"/>
<rect x="464.22" y="115.64" width="8.7" height="9.2" fill="#c0c0c3"/>
<rect x="474.28" y="115.64" width="8.7" height="9.2" fill="#c0c0c3"/>
<rect x="484.34" y="115.64" width="8.7" height="9.2" fill="#c0c0c3"/>
<rect x="494.4" y="115.64" width="8.7" height="9.2" fill="#c0c0c3"/>
<rect x="504.46" y="115.64" width="8.7" height="9.2" fill="#c0c0c3"/>
<rect x="6.2" y="126.32" width="60.6" height="9.2" fill="#bebdc1"/>
<rect x="68.2" y="126.32" width="8.7" height="9.2" fill="#32b64a"/>
<rect x="78.36" y="126.32" width="8.7" height="9.2" fill="#22a244"/>
<line x1="78.36" y1="135.52" x2="87.06" y2="126.32" stroke="#eefbef" stroke-width="2.7"/>
<rect x="88.53" y="126.32" width="8.7" height="9.2" fill="#c0c0c3"/>
<rect x="98.69" y="126.32" width="8.7" height="9.2" fill="#22a244"/>
<line x1="98.69" y1="135.52" x2="107.39" y2="126.32" stroke="#eefbef" stroke-width="2.7"/>
<rect x="108.85" y="126.32" width="8.7" height="9.2" fill="#22a244"/>
<line x1="108.85" y1="135.52" x2="117.55" y2="126.32" stroke="#eefbef" stroke-width="2.7"/>
<rect x="119.02" y="126.32" width="8.7" height="9.2" fill="#c0c0c3"/>
<rect x="129.18" y="126.32" width="8.7" height="9.2" fill="#c0c0c3"/>
<rect x="139.34" y="126.32" width="8.7" height="9.2" fill="#22a244"/>
<line x1="139.34" y1="135.52" x2="148.04" y2="126.32" stroke="#eefbef" stroke-width="2.7"/>
<rect x="149.5" y="126.32" width="8.7" height="9.2" fill="#c0c0c3"/>
<rect x="159.67" y="126.32" width="8.7" height="9.2" fill="#22a244"/>
<line x1="159.67" y1="135.52" x2="168.37" y2="126.32" stroke="#eefbef" stroke-width="2.7"/>
<rect x="169.83" y="126.32" width="8.7" height="9.2" fill="#32b64a"/>
<rect x="179.99" y="126.32" width="8.7" height="9.2" fill="#32b64a"/>
<rect x="190.16" y="126.32" width="8.7" height="9.2" fill="#c0c0c3"/>
<rect x="200.32" y="126.32" width="8.7" height="9.2" fill="#22a244"/>
<line x1="200.32" y1="135.52" x2="209.02" y2="126.32" stroke="#eefbef" stroke-width="2.7"/>
<rect x="210.48" y="126.32" width="8.7" height="9.2" fill="#32b64a"/>
<rect x="220.64" y="126.32" width="8.7" height="9.2" fill="#c0c0c3"/>
<rect x="230.81" y="126.32" width="8.7" height="9.2" fill="#c0c0c3"/>
<rect x="240.97" y="126.32" width="8.7" height="9.2" fill="#c0c0c3"/>
<rect x="251.13" y="126.32" width="8.7" height="9.2" fill="#22a244"/>
<line x1="251.13" y1="135.52" x2="259.83" y2="126.32" stroke="#eefbef" stroke-width="2.7"/>
<rect x="261.3" y="126.32" width="8.7" height="9.2" fill="#c0c0c3"/>
<rect x="271.46" y="126.32" width="8.7" height="9.2" fill="#c0c0c3"/>
<rect x="281.62" y="126.32" width="8.7" height="9.2" fill="#c0c0c3"/>
<rect x="291.79" y="126.32" width="8.7" height="9.2" fill="#c0c0c3"/>
<rect x="301.95" y="126.32" width="8.7" height="9.2" fill="#c0c0c3"/>
<rect x="312.11" y="126.32" width="8.7" height="9.2" fill="#c0c0c3"/>
<rect x="322.28" y="126.32" width="8.7" height="9.2" fill="#c0c0c3"/>
<rect x="332.44" y="126.32" width="8.7" height="9.2" fill="#c0c0c3"/>
<rect x="342.6" y="126.32" width="8.7" height="9.2" fill="#c0c0c3"/>
<rect x="352.76" y="126.32" width="8.7" height="9.2" fill="#c0c0c3"/>
<rect x="362.93" y="126.32" width="8.7" height="9.2" fill="#c0c0c3"/>
<rect x="373.09" y="126.32" width="8.7" height="9.2" fill="#c0c0c3"/>
<rect x="393.8" y="126.32" width="8.7" height="9.2" fill="#c0c0c3"/>
<rect x="403.86" y="126.32" width="8.7" height="9.2" fill="#c0c0c3"/>
<rect x="413.92" y="126.32" width="8.7" height="9.2" fill="#c0c0c3"/>
<rect x="423.98" y="126.32" width="8.7" height="9.2" fill="#c0c0c3"/>
<rect x="434.04" y="126.32" width="8.7" height="9.2" fill="#c0c0c3"/>
<rect x="444.1" y="126.32" width="8.7" height="9.2" fill="#c0c0c3"/>
<rect x="454.16" y="126.32" width="8.7" height="9.2" fill="#c0c0c3"/>
<rect x="464.22" y="126.32" width="8.7" height="9.2" fill="#c0c0c3"/>
<rect x="474.28" y="126.32" width="8.7" height="9.2" fill="#c0c0c3"/>
<rect x="484.34" y="126.32" width="8.7" height="9.2" fill="#c0c0c3"/>
<rect x="494.4" y="126.32" width="8.7" height="9.2" fill="#c0c0c3"/>
<rect x="504.46" y="126.32" width="8.7" height="9.2" fill="#c0c0c3"/>
<rect x="6.2" y="137" width="60.6" height="9.2" fill="#bebdc1"/>
<rect x="68.2" y="137" width="8.7" height="9.2" fill="#c0c0c3"/>
<rect x="78.36" y="137" width="8.7" height="9.2" fill="#c0c0c3"/>
<rect x="88.53" y="137" width="8.7" height="9.2" fill="#c0c0c3"/>
<rect x="98.69" y="137" width="8.7" height="9.2" fill="#c0c0c3"/>
<rect x="108.85" y="137" width="8.7" height="9.2" fill="#c0c0c3"/>
<rect x="119.02" y="137" width="8.7" height="9.2" fill="#c0c0c3"/>
<rect x="129.18" y="137" width="8.7" height="9.2" fill="#c0c0c3"/>
<rect x="139.34" y="137" width="8.7" height="9.2" fill="#c0c0c3"/>
<rect x="149.5" y="137" width="8.7" height="9.2" fill="#c0c0c3"/>
<rect x="159.67" y="137" width="8.7" height="9.2" fill="#c0c0c3"/>
<rect x="169.83" y="137" width="8.7" height="9.2" fill="#c0c0c3"/>
<rect x="179.99" y="137" width="8.7" height="9.2" fill="#c0c0c3"/>
<rect x="190.16" y="137" width="8.7" height="9.2" fill="#c0c0c3"/>
<rect x="200.32" y="137" width="8.7" height="9.2" fill="#c0c0c3"/>
<rect x="210.48" y="137" width="8.7" height="9.2" fill="#c0c0c3"/>
<rect x="220.64" y="137" width="8.7" height="9.2" fill="#c0c0c3"/>
<rect x="230.81" y="137" width="8.7" height="9.2" fill="#c0c0c3"/>
<rect x="240.97" y="137" width="8.7" height="9.2" fill="#22a244"/>
<line x1="240.97" y1="146.2" x2="249.67" y2="137" stroke="#eefbef" stroke-width="2.7"/>
<rect x="251.13" y="137" width="8.7" height="9.2" fill="#c0c0c3"/>
<rect x="261.3" y="137" width="8.7" height="9.2" fill="#c0c0c3"/>
<rect x="271.46" y="137" width="8.7" height="9.2" fill="#c0c0c3"/>
<rect x="281.62" y="137" width="8.7" height="9.2" fill="#c0c0c3"/>
<rect x="291.79" y="137" width="8.7" height="9.2" fill="#32b64a"/>
<rect x="301.95" y="137" width="8.7" height="9.2" fill="#c0c0c3"/>
<rect x="312.11" y="137" width="8.7" height="9.2" fill="#c0c0c3"/>
<rect x="322.28" y="137" width="8.7" height="9.2" fill="#c0c0c3"/>
<rect x="332.44" y="137" width="8.7" height="9.2" fill="#c0c0c3"/>
<rect x="342.6" y="137" width="8.7" height="9.2" fill="#c0c0c3"/>
<rect x="352.76" y="137" width="8.7" height="9.2" fill="#c0c0c3"/>
<rect x="362.93" y="137" width="8.7" height="9.2" fill="#c0c0c3"/>
<rect x="373.09" y="137" width="8.7" height="9.2" fill="#c0c0c3"/>
<rect x="393.8" y="137" width="8.7" height="9.2" fill="#c0c0c3"/>
<rect x="403.86" y="137" width="8.7" height="9.2" fill="#c0c0c3"/>
<rect x="413.92" y="137" width="8.7" height="9.2" fill="#c0c0c3"/>
<rect x="423.98" y="137" width="8.7" height="9.2" fill="#c0c0c3"/>
<rect x="434.04" y="137" width="8.7" height="9.2" fill="#c0c0c3"/>
<rect x="444.1" y="137" width="8.7" height="9.2" fill="#c0c0c3"/>
<rect x="454.16" y="137" width="8.7" height="9.2" fill="#c0c0c3"/>
<rect x="464.22" y="137" width="8.7" height="9.2" fill="#c0c0c3"/>
<rect x="474.28" y="137" width="8.7" height="9.2" fill="#c0c0c3"/>
<rect x="484.34" y="137" width="8.7" height="9.2" fill="#c0c0c3"/>
<rect x="494.4" y="137" width="8.7" height="9.2" fill="#c0c0c3"/>
<rect x="504.46" y="137" width="8.7" height="9.2" fill="#c0c0c3"/>
<rect x="6.2" y="147.68" width="60.6" height="9.2" fill="#bebdc1"/>
<rect x="68.2" y="147.68" width="8.7" height="9.2" fill="#c0c0c3"/>
<rect x="78.36" y="147.68" width="8.7" height="9.2" fill="#c0c0c3"/>
<rect x="88.53" y="147.68" width="8.7" height="9.2" fill="#c0c0c3"/>
<rect x="98.69" y="147.68" width="8.7" height="9.2" fill="#c0c0c3"/>
<rect x="108.85" y="147.68" width="8.7" height="9.2" fill="#c0c0c3"/>
<rect x="119.02" y="147.68" width="8.7" height="9.2" fill="#c0c0c3"/>
<rect x="129.18" y="147.68" width="8.7" height="9.2" fill="#32b64a"/>
<rect x="139.34" y="147.68" width="8.7" height="9.2" fill="#c0c0c3"/>
<rect x="149.5" y="147.68" width="8.7" height="9.2" fill="#c0c0c3"/>
<rect x="159.67" y="147.68" width="8.7" height="9.2" fill="#32b64a"/>
<rect x="169.83" y="147.68" width="8.7" height="9.2" fill="#c0c0c3"/>
<rect x="179.99" y="147.68" width="8.7" height="9.2" fill="#c0c0c3"/>
<rect x="190.16" y="147.68" width="8.7" height="9.2" fill="#c0c0c3"/>
<rect x="200.32" y="147.68" width="8.7" height="9.2" fill="#c0c0c3"/>
<rect x="210.48" y="147.68" width="8.7" height="9.2" fill="#32b64a"/>
<rect x="220.64" y="147.68" width="8.7" height="9.2" fill="#c0c0c3"/>
<rect x="230.81" y="147.68" width="8.7" height="9.2" fill="#c0c0c3"/>
<rect x="240.97" y="147.68" width="8.7" height="9.2" fill="#c0c0c3"/>
<rect x="251.13" y="147.68" width="8.7" height="9.2" fill="#c0c0c3"/>
<rect x="261.3" y="147.68" width="8.7" height="9.2" fill="#c0c0c3"/>
<rect x="271.46" y="147.68" width="8.7" height="9.2" fill="#c0c0c3"/>
<rect x="281.62" y="147.68" width="8.7" height="9.2" fill="#c0c0c3"/>
<rect x="291.79" y="147.68" width="8.7" height="9.2" fill="#c0c0c3"/>
<rect x="301.95" y="147.68" width="8.7" height="9.2" fill="#c0c0c3"/>
<rect x="312.11" y="147.68" width="8.7" height="9.2" fill="#c0c0c3"/>
<rect x="322.28" y="147.68" width="8.7" height="9.2" fill="#32b64a"/>
<rect x="332.44" y="147.68" width="8.7" height="9.2" fill="#c0c0c3"/>
<rect x="342.6" y="147.68" width="8.7" height="9.2" fill="#c0c0c3"/>
<rect x="352.76" y="147.68" width="8.7" height="9.2" fill="#c0c0c3"/>
<rect x="362.93" y="147.68" width="8.7" height="9.2" fill="#c0c0c3"/>
<rect x="373.09" y="147.68" width="8.7" height="9.2" fill="#c0c0c3"/>
<rect x="393.8" y="147.68" width="8.7" height="9.2" fill="#c0c0c3"/>
<rect x="403.86" y="147.68" width="8.7" height="9.2" fill="#c0c0c3"/>
<rect x="413.92" y="147.68" width="8.7" height="9.2" fill="#c0c0c3"/>
<rect x="423.98" y="147.68" width="8.7" height="9.2" fill="#c0c0c3"/>
<rect x="434.04" y="147.68" width="8.7" height="9.2" fill="#c0c0c3"/>
<rect x="444.1" y="147.68" width="8.7" height="9.2" fill="#c0c0c3"/>
<rect x="454.16" y="147.68" width="8.7" height="9.2" fill="#c0c0c3"/>
<rect x="464.22" y="147.68" width="8.7" height="9.2" fill="#c0c0c3"/>
<rect x="474.28" y="147.68" width="8.7" height="9.2" fill="#c0c0c3"/>
<rect x="484.34" y="147.68" width="8.7" height="9.2" fill="#c0c0c3"/>
<rect x="494.4" y="147.68" width="8.7" height="9.2" fill="#c0c0c3"/>
<rect x="504.46" y="147.68" width="8.7" height="9.2" fill="#c0c0c3"/>
<rect x="6.2" y="158.36" width="60.6" height="9.2" fill="#bebdc1"/>
<rect x="68.2" y="158.36" width="8.7" height="9.2" fill="#c0c0c3"/>
<rect x="78.36" y="158.36" width="8.7" height="9.2" fill="#c0c0c3"/>
<rect x="88.53" y="158.36" width="8.7" height="9.2" fill="#c0c0c3"/>
<rect x="98.69" y="158.36" width="8.7" height="9.2" fill="#c0c0c3"/>
<rect x="108.85" y="158.36" width="8.7" height="9.2" fill="#c0c0c3"/>
<rect x="119.02" y="158.36" width="8.7" height="9.2" fill="#c0c0c3"/>
<rect x="129.18" y="158.36" width="8.7" height="9.2" fill="#c0c0c3"/>
<rect x="139.34" y="158.36" width="8.7" height="9.2" fill="#c0c0c3"/>
<rect x="149.5" y="158.36" width="8.7" height="9.2" fill="#32b64a"/>
<rect x="159.67" y="158.36" width="8.7" height="9.2" fill="#c0c0c3"/>
<rect x="169.83" y="158.36" width="8.7" height="9.2" fill="#c0c0c3"/>
<rect x="179.99" y="158.36" width="8.7" height="9.2" fill="#32b64a"/>
<rect x="190.16" y="158.36" width="8.7" height="9.2" fill="#c0c0c3"/>
<rect x="200.32" y="158.36" width="8.7" height="9.2" fill="#c0c0c3"/>
<rect x="210.48" y="158.36" width="8.7" height="9.2" fill="#c0c0c3"/>
<rect x="220.64" y="158.36" width="8.7" height="9.2" fill="#c0c0c3"/>
<rect x="230.81" y="158.36" width="8.7" height="9.2" fill="#22a244"/>
<line x1="230.81" y1="167.56" x2="239.51" y2="158.36" stroke="#eefbef" stroke-width="2.7"/>
<rect x="240.97" y="158.36" width="8.7" height="9.2" fill="#c0c0c3"/>
<rect x="251.13" y="158.36" width="8.7" height="9.2" fill="#c0c0c3"/>
<rect x="261.3" y="158.36" width="8.7" height="9.2" fill="#c0c0c3"/>
<rect x="271.46" y="158.36" width="8.7" height="9.2" fill="#c0c0c3"/>
<rect x="281.62" y="158.36" width="8.7" height="9.2" fill="#c0c0c3"/>
<rect x="291.79" y="158.36" width="8.7" height="9.2" fill="#c0c0c3"/>
<rect x="301.95" y="158.36" width="8.7" height="9.2" fill="#c0c0c3"/>
<rect x="312.11" y="158.36" width="8.7" height="9.2" fill="#c0c0c3"/>
<rect x="322.28" y="158.36" width="8.7" height="9.2" fill="#c0c0c3"/>
<rect x="332.44" y="158.36" width="8.7" height="9.2" fill="#c0c0c3"/>
<rect x="342.6" y="158.36" width="8.7" height="9.2" fill="#c0c0c3"/>
<rect x="352.76" y="158.36" width="8.7" height="9.2" fill="#c0c0c3"/>
<rect x="362.93" y="158.36" width="8.7" height="9.2" fill="#c0c0c3"/>
<rect x="373.09" y="158.36" width="8.7" height="9.2" fill="#c0c0c3"/>
<rect x="393.8" y="158.36" width="8.7" height="9.2" fill="#c0c0c3"/>
<rect x="403.86" y="158.36" width="8.7" height="9.2" fill="#c0c0c3"/>
<rect x="413.92" y="158.36" width="8.7" height="9.2" fill="#c0c0c3"/>
<rect x="423.98" y="158.36" width="8.7" height="9.2" fill="#c0c0c3"/>
<rect x="434.04" y="158.36" width="8.7" height="9.2" fill="#c0c0c3"/>
<rect x="444.1" y="158.36" width="8.7" height="9.2" fill="#c0c0c3"/>
<rect x="454.16" y="158.36" width="8.7" height="9.2" fill="#c0c0c3"/>
<rect x="464.22" y="158.36" width="8.7" height="9.2" fill="#c0c0c3"/>
<rect x="474.28" y="158.36" width="8.7" height="9.2" fill="#c0c0c3"/>
<rect x="484.34" y="158.36" width="8.7" height="9.2" fill="#c0c0c3"/>
<rect x="494.4" y="158.36" width="8.7" height="9.2" fill="#c0c0c3"/>
<rect x="504.46" y="158.36" width="8.7" height="9.2" fill="#c0c0c3"/>
<rect x="6.2" y="169.04" width="60.6" height="9.2" fill="#bebdc1"/>
<rect x="68.2" y="169.04" width="8.7" height="9.2" fill="#c0c0c3"/>
<rect x="78.36" y="169.04" width="8.7" height="9.2" fill="#c0c0c3"/>
<rect x="88.53" y="169.04" width="8.7" height="9.2" fill="#c0c0c3"/>
<rect x="98.69" y="169.04" width="8.7" height="9.2" fill="#c0c0c3"/>
<rect x="108.85" y="169.04" width="8.7" height="9.2" fill="#c0c0c3"/>
<rect x="119.02" y="169.04" width="8.7" height="9.2" fill="#c0c0c3"/>
<rect x="129.18" y="169.04" width="8.7" height="9.2" fill="#c0c0c3"/>
<rect x="139.34" y="169.04" width="8.7" height="9.2" fill="#c0c0c3"/>
<rect x="149.5" y="169.04" width="8.7" height="9.2" fill="#c0c0c3"/>
<rect x="159.67" y="169.04" width="8.7" height="9.2" fill="#c0c0c3"/>
<rect x="169.83" y="169.04" width="8.7" height="9.2" fill="#c0c0c3"/>
<rect x="179.99" y="169.04" width="8.7" height="9.2" fill="#c0c0c3"/>
<rect x="190.16" y="169.04" width="8.7" height="9.2" fill="#c0c0c3"/>
<rect x="200.32" y="169.04" width="8.7" height="9.2" fill="#c0c0c3"/>
<rect x="210.48" y="169.04" width="8.7" height="9.2" fill="#c0c0c3"/>
<rect x="220.64" y="169.04" width="8.7" height="9.2" fill="#c0c0c3"/>
<rect x="230.81" y="169.04" width="8.7" height="9.2" fill="#c0c0c3"/>
<rect x="240.97" y="169.04" width="8.7" height="9.2" fill="#c0c0c3"/>
<rect x="251.13" y="169.04" width="8.7" height="9.2" fill="#c0c0c3"/>
<rect x="261.3" y="169.04" width="8.7" height="9.2" fill="#c0c0c3"/>
<rect x="271.46" y="169.04" width="8.7" height="9.2" fill="#c0c0c3"/>
<rect x="281.62" y="169.04" width="8.7" height="9.2" fill="#c0c0c3"/>
<rect x="291.79" y="169.04" width="8.7" height="9.2" fill="#c0c0c3"/>
<rect x="301.95" y="169.04" width="8.7" height="9.2" fill="#c0c0c3"/>
<rect x="312.11" y="169.04" width="8.7" height="9.2" fill="#c0c0c3"/>
<rect x="322.28" y="169.04" width="8.7" height="9.2" fill="#32b64a"/>
<rect x="332.44" y="169.04" width="8.7" height="9.2" fill="#c0c0c3"/>
<rect x="342.6" y="169.04" width="8.7" height="9.2" fill="#c0c0c3"/>
<rect x="352.76" y="169.04" width="8.7" height="9.2" fill="#c0c0c3"/>
<rect x="362.93" y="169.04" width="8.7" height="9.2" fill="#c0c0c3"/>
<rect x="373.09" y="169.04" width="8.7" height="9.2" fill="#c0c0c3"/>
<rect x="393.8" y="169.04" width="8.7" height="9.2" fill="#c0c0c3"/>
<rect x="403.86" y="169.04" width="8.7" height="9.2" fill="#c0c0c3"/>
<rect x="413.92" y="169.04" width="8.7" height="9.2" fill="#c0c0c3"/>
<rect x="423.98" y="169.04" width="8.7" height="9.2" fill="#c0c0c3"/>
<rect x="434.04" y="169.04" width="8.7" height="9.2" fill="#c0c0c3"/>
<rect x="444.1" y="169.04" width="8.7" height="9.2" fill="#c0c0c3"/>
<rect x="454.16" y="169.04" width="8.7" height="9.2" fill="#c0c0c3"/>
<rect x="464.22" y="169.04" width="8.7" height="9.2" fill="#c0c0c3"/>
<rect x="474.28" y="169.04" width="8.7" height="9.2" fill="#c0c0c3"/>
<rect x="484.34" y="169.04" width="8.7" height="9.2" fill="#c0c0c3"/>
<rect x="494.4" y="169.04" width="8.7" height="9.2" fill="#c0c0c3"/>
<rect x="504.46" y="169.04" width="8.7" height="9.2" fill="#c0c0c3"/>
<rect x="6.2" y="179.72" width="60.6" height="9.2" fill="#bebdc1"/>
<rect x="68.2" y="179.72" width="8.7" height="9.2" fill="#c0c0c3"/>
<rect x="78.36" y="179.72" width="8.7" height="9.2" fill="#c0c0c3"/>
<rect x="88.53" y="179.72" width="8.7" height="9.2" fill="#c0c0c3"/>
<rect x="98.69" y="179.72" width="8.7" height="9.2" fill="#c0c0c3"/>
<rect x="108.85" y="179.72" width="8.7" height="9.2" fill="#c0c0c3"/>
<rect x="119.02" y="179.72" width="8.7" height="9.2" fill="#c0c0c3"/>
<rect x="129.18" y="179.72" width="8.7" height="9.2" fill="#32b64a"/>
<rect x="139.34" y="179.72" width="8.7" height="9.2" fill="#c0c0c3"/>
<rect x="149.5" y="179.72" width="8.7" height="9.2" fill="#c0c0c3"/>
<rect x="159.67" y="179.72" width="8.7" height="9.2" fill="#c0c0c3"/>
<rect x="169.83" y="179.72" width="8.7" height="9.2" fill="#c0c0c3"/>
<rect x="179.99" y="179.72" width="8.7" height="9.2" fill="#32b64a"/>
<rect x="190.16" y="179.72" width="8.7" height="9.2" fill="#c0c0c3"/>
<rect x="200.32" y="179.72" width="8.7" height="9.2" fill="#c0c0c3"/>
<rect x="210.48" y="179.72" width="8.7" height="9.2" fill="#32b64a"/>
<rect x="220.64" y="179.72" width="8.7" height="9.2" fill="#32b64a"/>
<rect x="230.81" y="179.72" width="8.7" height="9.2" fill="#c0c0c3"/>
<rect x="240.97" y="179.72" width="8.7" height="9.2" fill="#c0c0c3"/>
<rect x="251.13" y="179.72" width="8.7" height="9.2" fill="#c0c0c3"/>
<rect x="261.3" y="179.72" width="8.7" height="9.2" fill="#c0c0c3"/>
<rect x="271.46" y="179.72" width="8.7" height="9.2" fill="#c0c0c3"/>
<rect x="281.62" y="179.72" width="8.7" height="9.2" fill="#c0c0c3"/>
<rect x="291.79" y="179.72" width="8.7" height="9.2" fill="#c0c0c3"/>
<rect x="301.95" y="179.72" width="8.7" height="9.2" fill="#c0c0c3"/>
<rect x="312.11" y="179.72" width="8.7" height="9.2" fill="#c0c0c3"/>
<rect x="322.28" y="179.72" width="8.7" height="9.2" fill="#c0c0c3"/>
<rect x="332.44" y="179.72" width="8.7" height="9.2" fill="#c0c0c3"/>
<rect x="342.6" y="179.72" width="8.7" height="9.2" fill="#c0c0c3"/>
<rect x="352.76" y="179.72" width="8.7" height="9.2" fill="#c0c0c3"/>
<rect x="362.93" y="179.72" width="8.7" height="9.2" fill="#c0c0c3"/>
<rect x="373.09" y="179.72" width="8.7" height="9.2" fill="#c0c0c3"/>
<rect x="393.8" y="179.72" width="8.7" height="9.2" fill="#c0c0c3"/>
<rect x="403.86" y="179.72" width="8.7" height="9.2" fill="#c0c0c3"/>
<rect x="413.92" y="179.72" width="8.7" height="9.2" fill="#c0c0c3"/>
<rect x="423.98" y="179.72" width="8.7" height="9.2" fill="#c0c0c3"/>
<rect x="434.04" y="179.72" width="8.7" height="9.2" fill="#c0c0c3"/>
<rect x="444.1" y="179.72" width="8.7" height="9.2" fill="#c0c0c3"/>
<rect x="454.16" y="179.72" width="8.7" height="9.2" fill="#c0c0c3"/>
<rect x="464.22" y="179.72" width="8.7" height="9.2" fill="#c0c0c3"/>
<rect x="474.28" y="179.72" width="8.7" height="9.2" fill="#c0c0c3"/>
<rect x="484.34" y="179.72" width="8.7" height="9.2" fill="#c0c0c3"/>
<rect x="494.4" y="179.72" width="8.7" height="9.2" fill="#c0c0c3"/>
<rect x="504.46" y="179.72" width="8.7" height="9.2" fill="#c0c0c3"/>
<rect x="6.2" y="190.4" width="60.6" height="9.2" fill="#bebdc1"/>
<rect x="68.2" y="190.4" width="8.7" height="9.2" fill="#c0c0c3"/>
<rect x="78.36" y="190.4" width="8.7" height="9.2" fill="#c0c0c3"/>
<rect x="88.53" y="190.4" width="8.7" height="9.2" fill="#c0c0c3"/>
<rect x="98.69" y="190.4" width="8.7" height="9.2" fill="#c0c0c3"/>
<rect x="108.85" y="190.4" width="8.7" height="9.2" fill="#c0c0c3"/>
<rect x="119.02" y="190.4" width="8.7" height="9.2" fill="#c0c0c3"/>
<rect x="129.18" y="190.4" width="8.7" height="9.2" fill="#c0c0c3"/>
<rect x="139.34" y="190.4" width="8.7" height="9.2" fill="#c0c0c3"/>
<rect x="149.5" y="190.4" width="8.7" height="9.2" fill="#c0c0c3"/>
<rect x="159.67" y="190.4" width="8.7" height="9.2" fill="#c0c0c3"/>
<rect x="169.83" y="190.4" width="8.7" height="9.2" fill="#c0c0c3"/>
<rect x="179.99" y="190.4" width="8.7" height="9.2" fill="#c0c0c3"/>
<rect x="190.16" y="190.4" width="8.7" height="9.2" fill="#c0c0c3"/>
<rect x="200.32" y="190.4" width="8.7" height="9.2" fill="#32b64a"/>
<rect x="210.48" y="190.4" width="8.7" height="9.2" fill="#c0c0c3"/>
<rect x="220.64" y="190.4" width="8.7" height="9.2" fill="#c0c0c3"/>
<rect x="230.81" y="190.4" width="8.7" height="9.2" fill="#c0c0c3"/>
<rect x="240.97" y="190.4" width="8.7" height="9.2" fill="#c0c0c3"/>
<rect x="251.13" y="190.4" width="8.7" height="9.2" fill="#c0c0c3"/>
<rect x="261.3" y="190.4" width="8.7" height="9.2" fill="#c0c0c3"/>
<rect x="271.46" y="190.4" width="8.7" height="9.2" fill="#c0c0c3"/>
<rect x="281.62" y="190.4" width="8.7" height="9.2" fill="#c0c0c3"/>
<rect x="291.79" y="190.4" width="8.7" height="9.2" fill="#32b64a"/>
<rect x="301.95" y="190.4" width="8.7" height="9.2" fill="#c0c0c3"/>
<rect x="312.11" y="190.4" width="8.7" height="9.2" fill="#c0c0c3"/>
<rect x="322.28" y="190.4" width="8.7" height="9.2" fill="#c0c0c3"/>
<rect x="332.44" y="190.4" width="8.7" height="9.2" fill="#c0c0c3"/>
<rect x="342.6" y="190.4" width="8.7" height="9.2" fill="#c0c0c3"/>
<rect x="352.76" y="190.4" width="8.7" height="9.2" fill="#c0c0c3"/>
<rect x="362.93" y="190.4" width="8.7" height="9.2" fill="#c0c0c3"/>
<rect x="373.09" y="190.4" width="8.7" height="9.2" fill="#c0c0c3"/>
<rect x="393.8" y="190.4" width="8.7" height="9.2" fill="#c0c0c3"/>
<rect x="403.86" y="190.4" width="8.7" height="9.2" fill="#c0c0c3"/>
<rect x="413.92" y="190.4" width="8.7" height="9.2" fill="#c0c0c3"/>
<rect x="423.98" y="190.4" width="8.7" height="9.2" fill="#c0c0c3"/>
<rect x="434.04" y="190.4" width="8.7" height="9.2" fill="#c0c0c3"/>
<rect x="444.1" y="190.4" width="8.7" height="9.2" fill="#c0c0c3"/>
<rect x="454.16" y="190.4" width="8.7" height="9.2" fill="#c0c0c3"/>
<rect x="464.22" y="190.4" width="8.7" height="9.2" fill="#c0c0c3"/>
<rect x="474.28" y="190.4" width="8.7" height="9.2" fill="#c0c0c3"/>
<rect x="484.34" y="190.4" width="8.7" height="9.2" fill="#c0c0c3"/>
<rect x="494.4" y="190.4" width="8.7" height="9.2" fill="#c0c0c3"/>
<rect x="504.46" y="190.4" width="8.7" height="9.2" fill="#c0c0c3"/>
<rect x="6.2" y="201.08" width="60.6" height="9.2" fill="#bebdc1"/>
<rect x="68.2" y="201.08" width="8.7" height="9.2" fill="#c0c0c3"/>
<rect x="78.36" y="201.08" width="8.7" height="9.2" fill="#c0c0c3"/>
<rect x="88.53" y="201.08" width="8.7" height="9.2" fill="#c0c0c3"/>
<rect x="98.69" y="201.08" width="8.7" height="9.2" fill="#c0c0c3"/>
<rect x="108.85" y="201.08" width="8.7" height="9.2" fill="#c0c0c3"/>
<rect x="119.02" y="201.08" width="8.7" height="9.2" fill="#c0c0c3"/>
<rect x="129.18" y="201.08" width="8.7" height="9.2" fill="#c0c0c3"/>
<rect x="139.34" y="201.08" width="8.7" height="9.2" fill="#c0c0c3"/>
<rect x="149.5" y="201.08" width="8.7" height="9.2" fill="#c0c0c3"/>
<rect x="159.67" y="201.08" width="8.7" height="9.2" fill="#c0c0c3"/>
<rect x="169.83" y="201.08" width="8.7" height="9.2" fill="#c0c0c3"/>
<rect x="179.99" y="201.08" width="8.7" height="9.2" fill="#c0c0c3"/>
<rect x="190.16" y="201.08" width="8.7" height="9.2" fill="#c0c0c3"/>
<rect x="200.32" y="201.08" width="8.7" height="9.2" fill="#c0c0c3"/>
<rect x="210.48" y="201.08" width="8.7" height="9.2" fill="#c0c0c3"/>
<rect x="220.64" y="201.08" width="8.7" height="9.2" fill="#c0c0c3"/>
<rect x="230.81" y="201.08" width="8.7" height="9.2" fill="#c0c0c3"/>
<rect x="240.97" y="201.08" width="8.7" height="9.2" fill="#c0c0c3"/>
<rect x="251.13" y="201.08" width="8.7" height="9.2" fill="#c0c0c3"/>
<rect x="261.3" y="201.08" width="8.7" height="9.2" fill="#c0c0c3"/>
<rect x="271.46" y="201.08" width="8.7" height="9.2" fill="#c0c0c3"/>
<rect x="281.62" y="201.08" width="8.7" height="9.2" fill="#c0c0c3"/>
<rect x="291.79" y="201.08" width="8.7" height="9.2" fill="#32b64a"/>
<rect x="301.95" y="201.08" width="8.7" height="9.2" fill="#c0c0c3"/>
<rect x="312.11" y="201.08" width="8.7" height="9.2" fill="#c0c0c3"/>
<rect x="322.28" y="201.08" width="8.7" height="9.2" fill="#c0c0c3"/>
<rect x="332.44" y="201.08" width="8.7" height="9.2" fill="#c0c0c3"/>
<rect x="342.6" y="201.08" width="8.7" height="9.2" fill="#c0c0c3"/>
<rect x="352.76" y="201.08" width="8.7" height="9.2" fill="#c0c0c3"/>
<rect x="362.93" y="201.08" width="8.7" height="9.2" fill="#c0c0c3"/>
<rect x="373.09" y="201.08" width="8.7" height="9.2" fill="#c0c0c3"/>
<rect x="393.8" y="201.08" width="8.7" height="9.2" fill="#c0c0c3"/>
<rect x="403.86" y="201.08" width="8.7" height="9.2" fill="#c0c0c3"/>
<rect x="413.92" y="201.08" width="8.7" height="9.2" fill="#c0c0c3"/>
<rect x="423.98" y="201.08" width="8.7" height="9.2" fill="#c0c0c3"/>
<rect x="434.04" y="201.08" width="8.7" height="9.2" fill="#c0c0c3"/>
<rect x="444.1" y="201.08" width="8.7" height="9.2" fill="#c0c0c3"/>
<rect x="454.16" y="201.08" width="8.7" height="9.2" fill="#c0c0c3"/>
<rect x="464.22" y="201.08" width="8.7" height="9.2" fill="#c0c0c3"/>
<rect x="474.28" y="201.08" width="8.7" height="9.2" fill="#c0c0c3"/>
<rect x="484.34" y="201.08" width="8.7" height="9.2" fill="#c0c0c3"/>
<rect x="494.4" y="201.08" width="8.7" height="9.2" fill="#c0c0c3"/>
<rect x="504.46" y="201.08" width="8.7" height="9.2" fill="#c0c0c3"/>
<rect x="6.2" y="211.76" width="60.6" height="9.2" fill="#bebdc1"/>
<rect x="68.2" y="211.76" width="8.7" height="9.2" fill="#c0c0c3"/>
<rect x="78.36" y="211.76" width="8.7" height="9.2" fill="#c0c0c3"/>
<rect x="88.53" y="211.76" width="8.7" height="9.2" fill="#c0c0c3"/>
<rect x="98.69" y="211.76" width="8.7" height="9.2" fill="#c0c0c3"/>
<rect x="108.85" y="211.76" width="8.7" height="9.2" fill="#c0c0c3"/>
<rect x="119.02" y="211.76" width="8.7" height="9.2" fill="#c0c0c3"/>
<rect x="129.18" y="211.76" width="8.7" height="9.2" fill="#c0c0c3"/>
<rect x="139.34" y="211.76" width="8.7" height="9.2" fill="#c0c0c3"/>
<rect x="149.5" y="211.76" width="8.7" height="9.2" fill="#c0c0c3"/>
<rect x="159.67" y="211.76" width="8.7" height="9.2" fill="#c0c0c3"/>
<rect x="169.83" y="211.76" width="8.7" height="9.2" fill="#c0c0c3"/>
<rect x="179.99" y="211.76" width="8.7" height="9.2" fill="#c0c0c3"/>
<rect x="190.16" y="211.76" width="8.7" height="9.2" fill="#c0c0c3"/>
<rect x="200.32" y="211.76" width="8.7" height="9.2" fill="#32b64a"/>
<rect x="210.48" y="211.76" width="8.7" height="9.2" fill="#c0c0c3"/>
<rect x="220.64" y="211.76" width="8.7" height="9.2" fill="#c0c0c3"/>
<rect x="230.81" y="211.76" width="8.7" height="9.2" fill="#c0c0c3"/>
<rect x="240.97" y="211.76" width="8.7" height="9.2" fill="#c0c0c3"/>
<rect x="251.13" y="211.76" width="8.7" height="9.2" fill="#c0c0c3"/>
<rect x="261.3" y="211.76" width="8.7" height="9.2" fill="#c0c0c3"/>
<rect x="271.46" y="211.76" width="8.7" height="9.2" fill="#c0c0c3"/>
<rect x="281.62" y="211.76" width="8.7" height="9.2" fill="#c0c0c3"/>
<rect x="291.79" y="211.76" width="8.7" height="9.2" fill="#c0c0c3"/>
<rect x="301.95" y="211.76" width="8.7" height="9.2" fill="#c0c0c3"/>
<rect x="312.11" y="211.76" width="8.7" height="9.2" fill="#c0c0c3"/>
<rect x="322.28" y="211.76" width="8.7" height="9.2" fill="#c0c0c3"/>
<rect x="332.44" y="211.76" width="8.7" height="9.2" fill="#c0c0c3"/>
<rect x="342.6" y="211.76" width="8.7" height="9.2" fill="#c0c0c3"/>
<rect x="352.76" y="211.76" width="8.7" height="9.2" fill="#c0c0c3"/>
<rect x="362.93" y="211.76" width="8.7" height="9.2" fill="#c0c0c3"/>
<rect x="373.09" y="211.76" width="8.7" height="9.2" fill="#c0c0c3"/>
<rect x="393.8" y="211.76" width="8.7" height="9.2" fill="#c0c0c3"/>
<rect x="403.86" y="211.76" width="8.7" height="9.2" fill="#c0c0c3"/>
<rect x="413.92" y="211.76" width="8.7" height="9.2" fill="#c0c0c3"/>
<rect x="423.98" y="211.76" width="8.7" height="9.2" fill="#c0c0c3"/>
<rect x="434.04" y="211.76" width="8.7" height="9.2" fill="#c0c0c3"/>
<rect x="444.1" y="211.76" width="8.7" height="9.2" fill="#c0c0c3"/>
<rect x="454.16" y="211.76" width="8.7" height="9.2" fill="#c0c0c3"/>
<rect x="464.22" y="211.76" width="8.7" height="9.2" fill="#c0c0c3"/>
<rect x="474.28" y="211.76" width="8.7" height="9.2" fill="#c0c0c3"/>
<rect x="484.34" y="211.76" width="8.7" height="9.2" fill="#c0c0c3"/>
<rect x="494.4" y="211.76" width="8.7" height="9.2" fill="#c0c0c3"/>
<rect x="504.46" y="211.76" width="8.7" height="9.2" fill="#c0c0c3"/>
<rect x="6.2" y="222.44" width="60.6" height="9.2" fill="#bebdc1"/>
<rect x="68.2" y="222.44" width="8.7" height="9.2" fill="#32b64a"/>
<rect x="78.36" y="222.44" width="8.7" height="9.2" fill="#c0c0c3"/>
<rect x="88.53" y="222.44" width="8.7" height="9.2" fill="#c0c0c3"/>
<rect x="98.69" y="222.44" width="8.7" height="9.2" fill="#c0c0c3"/>
<rect x="108.85" y="222.44" width="8.7" height="9.2" fill="#c0c0c3"/>
<rect x="119.02" y="222.44" width="8.7" height="9.2" fill="#c0c0c3"/>
<rect x="129.18" y="222.44" width="8.7" height="9.2" fill="#c0c0c3"/>
<rect x="139.34" y="222.44" width="8.7" height="9.2" fill="#c0c0c3"/>
<rect x="149.5" y="222.44" width="8.7" height="9.2" fill="#c0c0c3"/>
<rect x="159.67" y="222.44" width="8.7" height="9.2" fill="#c0c0c3"/>
<rect x="169.83" y="222.44" width="8.7" height="9.2" fill="#c0c0c3"/>
<rect x="179.99" y="222.44" width="8.7" height="9.2" fill="#c0c0c3"/>
<rect x="190.16" y="222.44" width="8.7" height="9.2" fill="#c0c0c3"/>
<rect x="200.32" y="222.44" width="8.7" height="9.2" fill="#c0c0c3"/>
<rect x="210.48" y="222.44" width="8.7" height="9.2" fill="#c0c0c3"/>
<rect x="220.64" y="222.44" width="8.7" height="9.2" fill="#c0c0c3"/>
<rect x="230.81" y="222.44" width="8.7" height="9.2" fill="#c0c0c3"/>
<rect x="240.97" y="222.44" width="8.7" height="9.2" fill="#c0c0c3"/>
<rect x="251.13" y="222.44" width="8.7" height="9.2" fill="#c0c0c3"/>
<rect x="261.3" y="222.44" width="8.7" height="9.2" fill="#c0c0c3"/>
<rect x="271.46" y="222.44" width="8.7" height="9.2" fill="#c0c0c3"/>
<rect x="281.62" y="222.44" width="8.7" height="9.2" fill="#c0c0c3"/>
<rect x="291.79" y="222.44" width="8.7" height="9.2" fill="#c0c0c3"/>
<rect x="301.95" y="222.44" width="8.7" height="9.2" fill="#c0c0c3"/>
<rect x="312.11" y="222.44" width="8.7" height="9.2" fill="#c0c0c3"/>
<rect x="322.28" y="222.44" width="8.7" height="9.2" fill="#c0c0c3"/>
<rect x="332.44" y="222.44" width="8.7" height="9.2" fill="#c0c0c3"/>
<rect x="342.6" y="222.44" width="8.7" height="9.2" fill="#c0c0c3"/>
<rect x="352.76" y="222.44" width="8.7" height="9.2" fill="#c0c0c3"/>
<rect x="362.93" y="222.44" width="8.7" height="9.2" fill="#c0c0c3"/>
<rect x="373.09" y="222.44" width="8.7" height="9.2" fill="#c0c0c3"/>
<rect x="393.8" y="222.44" width="8.7" height="9.2" fill="#c0c0c3"/>
<rect x="403.86" y="222.44" width="8.7" height="9.2" fill="#c0c0c3"/>
<rect x="413.92" y="222.44" width="8.7" height="9.2" fill="#c0c0c3"/>
<rect x="423.98" y="222.44" width="8.7" height="9.2" fill="#c0c0c3"/>
<rect x="434.04" y="222.44" width="8.7" height="9.2" fill="#c0c0c3"/>
<rect x="444.1" y="222.44" width="8.7" height="9.2" fill="#c0c0c3"/>
<rect x="454.16" y="222.44" width="8.7" height="9.2" fill="#c0c0c3"/>
<rect x="464.22" y="222.44" width="8.7" height="9.2" fill="#c0c0c3"/>
<rect x="474.28" y="222.44" width="8.7" height="9.2" fill="#c0c0c3"/>
<rect x="484.34" y="222.44" width="8.7" height="9.2" fill="#c0c0c3"/>
<rect x="494.4" y="222.44" width="8.7" height="9.2" fill="#c0c0c3"/>
<rect x="504.46" y="222.44" width="8.7" height="9.2" fill="#c0c0c3"/>
<rect x="6.2" y="233.12" width="60.6" height="9.2" fill="#bebdc1"/>
<rect x="68.2" y="233.12" width="8.7" height="9.2" fill="#c0c0c3"/>
<rect x="78.36" y="233.12" width="8.7" height="9.2" fill="#c0c0c3"/>
<rect x="88.53" y="233.12" width="8.7" height="9.2" fill="#c0c0c3"/>
<rect x="98.69" y="233.12" width="8.7" height="9.2" fill="#c0c0c3"/>
<rect x="108.85" y="233.12" width="8.7" height="9.2" fill="#c0c0c3"/>
<rect x="119.02" y="233.12" width="8.7" height="9.2" fill="#c0c0c3"/>
<rect x="129.18" y="233.12" width="8.7" height="9.2" fill="#c0c0c3"/>
<rect x="139.34" y="233.12" width="8.7" height="9.2" fill="#32b64a"/>
<rect x="149.5" y="233.12" width="8.7" height="9.2" fill="#c0c0c3"/>
<rect x="159.67" y="233.12" width="8.7" height="9.2" fill="#c0c0c3"/>
<rect x="169.83" y="233.12" width="8.7" height="9.2" fill="#c0c0c3"/>
<rect x="179.99" y="233.12" width="8.7" height="9.2" fill="#c0c0c3"/>
<rect x="190.16" y="233.12" width="8.7" height="9.2" fill="#c0c0c3"/>
<rect x="200.32" y="233.12" width="8.7" height="9.2" fill="#c0c0c3"/>
<rect x="210.48" y="233.12" width="8.7" height="9.2" fill="#c0c0c3"/>
<rect x="220.64" y="233.12" width="8.7" height="9.2" fill="#c0c0c3"/>
<rect x="230.81" y="233.12" width="8.7" height="9.2" fill="#c0c0c3"/>
<rect x="240.97" y="233.12" width="8.7" height="9.2" fill="#c0c0c3"/>
<rect x="251.13" y="233.12" width="8.7" height="9.2" fill="#32b64a"/>
<rect x="261.3" y="233.12" width="8.7" height="9.2" fill="#c0c0c3"/>
<rect x="271.46" y="233.12" width="8.7" height="9.2" fill="#c0c0c3"/>
<rect x="281.62" y="233.12" width="8.7" height="9.2" fill="#c0c0c3"/>
<rect x="291.79" y="233.12" width="8.7" height="9.2" fill="#c0c0c3"/>
<rect x="301.95" y="233.12" width="8.7" height="9.2" fill="#c0c0c3"/>
<rect x="312.11" y="233.12" width="8.7" height="9.2" fill="#c0c0c3"/>
<rect x="322.28" y="233.12" width="8.7" height="9.2" fill="#c0c0c3"/>
<rect x="332.44" y="233.12" width="8.7" height="9.2" fill="#c0c0c3"/>
<rect x="342.6" y="233.12" width="8.7" height="9.2" fill="#c0c0c3"/>
<rect x="352.76" y="233.12" width="8.7" height="9.2" fill="#c0c0c3"/>
<rect x="362.93" y="233.12" width="8.7" height="9.2" fill="#c0c0c3"/>
<rect x="373.09" y="233.12" width="8.7" height="9.2" fill="#c0c0c3"/>
<rect x="393.8" y="233.12" width="8.7" height="9.2" fill="#c0c0c3"/>
<rect x="403.86" y="233.12" width="8.7" height="9.2" fill="#c0c0c3"/>
<rect x="413.92" y="233.12" width="8.7" height="9.2" fill="#c0c0c3"/>
<rect x="423.98" y="233.12" width="8.7" height="9.2" fill="#c0c0c3"/>
<rect x="434.04" y="233.12" width="8.7" height="9.2" fill="#c0c0c3"/>
<rect x="444.1" y="233.12" width="8.7" height="9.2" fill="#c0c0c3"/>
<rect x="454.16" y="233.12" width="8.7" height="9.2" fill="#c0c0c3"/>
<rect x="464.22" y="233.12" width="8.7" height="9.2" fill="#c0c0c3"/>
<rect x="474.28" y="233.12" width="8.7" height="9.2" fill="#c0c0c3"/>
<rect x="484.34" y="233.12" width="8.7" height="9.2" fill="#c0c0c3"/>
<rect x="494.4" y="233.12" width="8.7" height="9.2" fill="#c0c0c3"/>
<rect x="504.46" y="233.12" width="8.7" height="9.2" fill="#c0c0c3"/>
<rect x="6.2" y="243.8" width="60.6" height="9.2" fill="#bebdc1"/>
<rect x="68.2" y="243.8" width="8.7" height="9.2" fill="#c0c0c3"/>
<rect x="78.36" y="243.8" width="8.7" height="9.2" fill="#c0c0c3"/>
<rect x="88.53" y="243.8" width="8.7" height="9.2" fill="#c0c0c3"/>
<rect x="98.69" y="243.8" width="8.7" height="9.2" fill="#c0c0c3"/>
<rect x="108.85" y="243.8" width="8.7" height="9.2" fill="#c0c0c3"/>
<rect x="119.02" y="243.8" width="8.7" height="9.2" fill="#c0c0c3"/>
<rect x="129.18" y="243.8" width="8.7" height="9.2" fill="#c0c0c3"/>
<rect x="139.34" y="243.8" width="8.7" height="9.2" fill="#c0c0c3"/>
<rect x="149.5" y="243.8" width="8.7" height="9.2" fill="#c0c0c3"/>
<rect x="159.67" y="243.8" width="8.7" height="9.2" fill="#c0c0c3"/>
<rect x="169.83" y="243.8" width="8.7" height="9.2" fill="#c0c0c3"/>
<rect x="179.99" y="243.8" width="8.7" height="9.2" fill="#c0c0c3"/>
<rect x="190.16" y="243.8" width="8.7" height="9.2" fill="#c0c0c3"/>
<rect x="200.32" y="243.8" width="8.7" height="9.2" fill="#c0c0c3"/>
<rect x="210.48" y="243.8" width="8.7" height="9.2" fill="#c0c0c3"/>
<rect x="220.64" y="243.8" width="8.7" height="9.2" fill="#32b64a"/>
<rect x="230.81" y="243.8" width="8.7" height="9.2" fill="#c0c0c3"/>
<rect x="240.97" y="243.8" width="8.7" height="9.2" fill="#c0c0c3"/>
<rect x="251.13" y="243.8" width="8.7" height="9.2" fill="#c0c0c3"/>
<rect x="261.3" y="243.8" width="8.7" height="9.2" fill="#c0c0c3"/>
<rect x="271.46" y="243.8" width="8.7" height="9.2" fill="#c0c0c3"/>
<rect x="281.62" y="243.8" width="8.7" height="9.2" fill="#c0c0c3"/>
<rect x="291.79" y="243.8" width="8.7" height="9.2" fill="#c0c0c3"/>
<rect x="301.95" y="243.8" width="8.7" height="9.2" fill="#c0c0c3"/>
<rect x="312.11" y="243.8" width="8.7" height="9.2" fill="#c0c0c3"/>
<rect x="322.28" y="243.8" width="8.7" height="9.2" fill="#c0c0c3"/>
<rect x="332.44" y="243.8" width="8.7" height="9.2" fill="#c0c0c3"/>
<rect x="342.6" y="243.8" width="8.7" height="9.2" fill="#c0c0c3"/>
<rect x="352.76" y="243.8" width="8.7" height="9.2" fill="#c0c0c3"/>
<rect x="362.93" y="243.8" width="8.7" height="9.2" fill="#c0c0c3"/>
<rect x="373.09" y="243.8" width="8.7" height="9.2" fill="#c0c0c3"/>
<rect x="393.8" y="243.8" width="8.7" height="9.2" fill="#c0c0c3"/>
<rect x="403.86" y="243.8" width="8.7" height="9.2" fill="#c0c0c3"/>
<rect x="413.92" y="243.8" width="8.7" height="9.2" fill="#c0c0c3"/>
<rect x="423.98" y="243.8" width="8.7" height="9.2" fill="#c0c0c3"/>
<rect x="434.04" y="243.8" width="8.7" height="9.2" fill="#c0c0c3"/>
<rect x="444.1" y="243.8" width="8.7" height="9.2" fill="#c0c0c3"/>
<rect x="454.16" y="243.8" width="8.7" height="9.2" fill="#c0c0c3"/>
<rect x="464.22" y="243.8" width="8.7" height="9.2" fill="#c0c0c3"/>
<rect x="474.28" y="243.8" width="8.7" height="9.2" fill="#c0c0c3"/>
<rect x="484.34" y="243.8" width="8.7" height="9.2" fill="#c0c0c3"/>
<rect x="494.4" y="243.8" width="8.7" height="9.2" fill="#c0c0c3"/>
<rect x="504.46" y="243.8" width="8.7" height="9.2" fill="#c0c0c3"/>
<rect x="6.2" y="254.48" width="60.6" height="9.2" fill="#bebdc1"/>
<rect x="68.2" y="254.48" width="8.7" height="9.2" fill="#c0c0c3"/>
<rect x="78.36" y="254.48" width="8.7" height="9.2" fill="#c0c0c3"/>
<rect x="88.53" y="254.48" width="8.7" height="9.2" fill="#c0c0c3"/>
<rect x="98.69" y="254.48" width="8.7" height="9.2" fill="#c0c0c3"/>
<rect x="108.85" y="254.48" width="8.7" height="9.2" fill="#c0c0c3"/>
<rect x="119.02" y="254.48" width="8.7" height="9.2" fill="#c0c0c3"/>
<rect x="129.18" y="254.48" width="8.7" height="9.2" fill="#c0c0c3"/>
<rect x="139.34" y="254.48" width="8.7" height="9.2" fill="#c0c0c3"/>
<rect x="149.5" y="254.48" width="8.7" height="9.2" fill="#c0c0c3"/>
<rect x="159.67" y="254.48" width="8.7" height="9.2" fill="#c0c0c3"/>
<rect x="169.83" y="254.48" width="8.7" height="9.2" fill="#c0c0c3"/>
<rect x="179.99" y="254.48" width="8.7" height="9.2" fill="#c0c0c3"/>
<rect x="190.16" y="254.48" width="8.7" height="9.2" fill="#c0c0c3"/>
<rect x="200.32" y="254.48" width="8.7" height="9.2" fill="#c0c0c3"/>
<rect x="210.48" y="254.48" width="8.7" height="9.2" fill="#c0c0c3"/>
<rect x="220.64" y="254.48" width="8.7" height="9.2" fill="#c0c0c3"/>
<rect x="230.81" y="254.48" width="8.7" height="9.2" fill="#c0c0c3"/>
<rect x="240.97" y="254.48" width="8.7" height="9.2" fill="#32b64a"/>
<rect x="251.13" y="254.48" width="8.7" height="9.2" fill="#c0c0c3"/>
<rect x="261.3" y="254.48" width="8.7" height="9.2" fill="#c0c0c3"/>
<rect x="271.46" y="254.48" width="8.7" height="9.2" fill="#c0c0c3"/>
<rect x="281.62" y="254.48" width="8.7" height="9.2" fill="#c0c0c3"/>
<rect x="291.79" y="254.48" width="8.7" height="9.2" fill="#c0c0c3"/>
<rect x="301.95" y="254.48" width="8.7" height="9.2" fill="#c0c0c3"/>
<rect x="312.11" y="254.48" width="8.7" height="9.2" fill="#c0c0c3"/>
<rect x="322.28" y="254.48" width="8.7" height="9.2" fill="#c0c0c3"/>
<rect x="332.44" y="254.48" width="8.7" height="9.2" fill="#c0c0c3"/>
<rect x="342.6" y="254.48" width="8.7" height="9.2" fill="#c0c0c3"/>
<rect x="352.76" y="254.48" width="8.7" height="9.2" fill="#c0c0c3"/>
<rect x="362.93" y="254.48" width="8.7" height="9.2" fill="#c0c0c3"/>
<rect x="373.09" y="254.48" width="8.7" height="9.2" fill="#c0c0c3"/>
<rect x="393.8" y="254.48" width="8.7" height="9.2" fill="#c0c0c3"/>
<rect x="403.86" y="254.48" width="8.7" height="9.2" fill="#c0c0c3"/>
<rect x="413.92" y="254.48" width="8.7" height="9.2" fill="#c0c0c3"/>
<rect x="423.98" y="254.48" width="8.7" height="9.2" fill="#c0c0c3"/>
<rect x="434.04" y="254.48" width="8.7" height="9.2" fill="#c0c0c3"/>
<rect x="444.1" y="254.48" width="8.7" height="9.2" fill="#c0c0c3"/>
<rect x="454.16" y="254.48" width="8.7" height="9.2" fill="#c0c0c3"/>
<rect x="464.22" y="254.48" width="8.7" height="9.2" fill="#c0c0c3"/>
<rect x="474.28" y="254.48" width="8.7" height="9.2" fill="#c0c0c3"/>
<rect x="484.34" y="254.48" width="8.7" height="9.2" fill="#c0c0c3"/>
<rect x="494.4" y="254.48" width="8.7" height="9.2" fill="#c0c0c3"/>
<rect x="504.46" y="254.48" width="8.7" height="9.2" fill="#c0c0c3"/>
<rect x="6.2" y="265.16" width="60.6" height="9.2" fill="#bebdc1"/>
<rect x="68.2" y="265.16" width="8.7" height="9.2" fill="#c0c0c3"/>
<rect x="78.36" y="265.16" width="8.7" height="9.2" fill="#c0c0c3"/>
<rect x="88.53" y="265.16" width="8.7" height="9.2" fill="#c0c0c3"/>
<rect x="98.69" y="265.16" width="8.7" height="9.2" fill="#c0c0c3"/>
<rect x="108.85" y="265.16" width="8.7" height="9.2" fill="#c0c0c3"/>
<rect x="119.02" y="265.16" width="8.7" height="9.2" fill="#c0c0c3"/>
<rect x="129.18" y="265.16" width="8.7" height="9.2" fill="#c0c0c3"/>
<rect x="139.34" y="265.16" width="8.7" height="9.2" fill="#c0c0c3"/>
<rect x="149.5" y="265.16" width="8.7" height="9.2" fill="#c0c0c3"/>
<rect x="159.67" y="265.16" width="8.7" height="9.2" fill="#c0c0c3"/>
<rect x="169.83" y="265.16" width="8.7" height="9.2" fill="#c0c0c3"/>
<rect x="179.99" y="265.16" width="8.7" height="9.2" fill="#c0c0c3"/>
<rect x="190.16" y="265.16" width="8.7" height="9.2" fill="#c0c0c3"/>
<rect x="200.32" y="265.16" width="8.7" height="9.2" fill="#c0c0c3"/>
<rect x="210.48" y="265.16" width="8.7" height="9.2" fill="#c0c0c3"/>
<rect x="220.64" y="265.16" width="8.7" height="9.2" fill="#c0c0c3"/>
<rect x="230.81" y="265.16" width="8.7" height="9.2" fill="#c0c0c3"/>
<rect x="240.97" y="265.16" width="8.7" height="9.2" fill="#32b64a"/>
<rect x="251.13" y="265.16" width="8.7" height="9.2" fill="#c0c0c3"/>
<rect x="261.3" y="265.16" width="8.7" height="9.2" fill="#c0c0c3"/>
<rect x="271.46" y="265.16" width="8.7" height="9.2" fill="#c0c0c3"/>
<rect x="281.62" y="265.16" width="8.7" height="9.2" fill="#c0c0c3"/>
<rect x="291.79" y="265.16" width="8.7" height="9.2" fill="#c0c0c3"/>
<rect x="301.95" y="265.16" width="8.7" height="9.2" fill="#c0c0c3"/>
<rect x="312.11" y="265.16" width="8.7" height="9.2" fill="#c0c0c3"/>
<rect x="322.28" y="265.16" width="8.7" height="9.2" fill="#c0c0c3"/>
<rect x="332.44" y="265.16" width="8.7" height="9.2" fill="#c0c0c3"/>
<rect x="342.6" y="265.16" width="8.7" height="9.2" fill="#c0c0c3"/>
<rect x="352.76" y="265.16" width="8.7" height="9.2" fill="#c0c0c3"/>
<rect x="362.93" y="265.16" width="8.7" height="9.2" fill="#c0c0c3"/>
<rect x="373.09" y="265.16" width="8.7" height="9.2" fill="#c0c0c3"/>
<rect x="393.8" y="265.16" width="8.7" height="9.2" fill="#c0c0c3"/>
<rect x="403.86" y="265.16" width="8.7" height="9.2" fill="#c0c0c3"/>
<rect x="413.92" y="265.16" width="8.7" height="9.2" fill="#c0c0c3"/>
<rect x="423.98" y="265.16" width="8.7" height="9.2" fill="#c0c0c3"/>
<rect x="434.04" y="265.16" width="8.7" height="9.2" fill="#c0c0c3"/>
<rect x="444.1" y="265.16" width="8.7" height="9.2" fill="#c0c0c3"/>
<rect x="454.16" y="265.16" width="8.7" height="9.2" fill="#c0c0c3"/>
<rect x="464.22" y="265.16" width="8.7" height="9.2" fill="#c0c0c3"/>
<rect x="474.28" y="265.16" width="8.7" height="9.2" fill="#c0c0c3"/>
<rect x="484.34" y="265.16" width="8.7" height="9.2" fill="#c0c0c3"/>
<rect x="494.4" y="265.16" width="8.7" height="9.2" fill="#c0c0c3"/>
<rect x="504.46" y="265.16" width="8.7" height="9.2" fill="#c0c0c3"/>
<rect x="6.2" y="275.84" width="60.6" height="9.2" fill="#bebdc1"/>
<rect x="68.2" y="275.84" width="8.7" height="9.2" fill="#c0c0c3"/>
<rect x="78.36" y="275.84" width="8.7" height="9.2" fill="#c0c0c3"/>
<rect x="88.53" y="275.84" width="8.7" height="9.2" fill="#c0c0c3"/>
<rect x="98.69" y="275.84" width="8.7" height="9.2" fill="#c0c0c3"/>
<rect x="108.85" y="275.84" width="8.7" height="9.2" fill="#c0c0c3"/>
<rect x="119.02" y="275.84" width="8.7" height="9.2" fill="#c0c0c3"/>
<rect x="129.18" y="275.84" width="8.7" height="9.2" fill="#32b64a"/>
<rect x="139.34" y="275.84" width="8.7" height="9.2" fill="#c0c0c3"/>
<rect x="149.5" y="275.84" width="8.7" height="9.2" fill="#c0c0c3"/>
<rect x="159.67" y="275.84" width="8.7" height="9.2" fill="#c0c0c3"/>
<rect x="169.83" y="275.84" width="8.7" height="9.2" fill="#c0c0c3"/>
<rect x="179.99" y="275.84" width="8.7" height="9.2" fill="#c0c0c3"/>
<rect x="190.16" y="275.84" width="8.7" height="9.2" fill="#c0c0c3"/>
<rect x="200.32" y="275.84" width="8.7" height="9.2" fill="#c0c0c3"/>
<rect x="210.48" y="275.84" width="8.7" height="9.2" fill="#c0c0c3"/>
<rect x="220.64" y="275.84" width="8.7" height="9.2" fill="#c0c0c3"/>
<rect x="230.81" y="275.84" width="8.7" height="9.2" fill="#c0c0c3"/>
<rect x="240.97" y="275.84" width="8.7" height="9.2" fill="#c0c0c3"/>
<rect x="251.13" y="275.84" width="8.7" height="9.2" fill="#c0c0c3"/>
<rect x="261.3" y="275.84" width="8.7" height="9.2" fill="#c0c0c3"/>
<rect x="271.46" y="275.84" width="8.7" height="9.2" fill="#c0c0c3"/>
<rect x="281.62" y="275.84" width="8.7" height="9.2" fill="#c0c0c3"/>
<rect x="291.79" y="275.84" width="8.7" height="9.2" fill="#c0c0c3"/>
<rect x="301.95" y="275.84" width="8.7" height="9.2" fill="#c0c0c3"/>
<rect x="312.11" y="275.84" width="8.7" height="9.2" fill="#c0c0c3"/>
<rect x="322.28" y="275.84" width="8.7" height="9.2" fill="#c0c0c3"/>
<rect x="332.44" y="275.84" width="8.7" height="9.2" fill="#c0c0c3"/>
<rect x="342.6" y="275.84" width="8.7" height="9.2" fill="#c0c0c3"/>
<rect x="352.76" y="275.84" width="8.7" height="9.2" fill="#c0c0c3"/>
<rect x="362.93" y="275.84" width="8.7" height="9.2" fill="#c0c0c3"/>
<rect x="373.09" y="275.84" width="8.7" height="9.2" fill="#c0c0c3"/>
<rect x="393.8" y="275.84" width="8.7" height="9.2" fill="#c0c0c3"/>
<rect x="403.86" y="275.84" width="8.7" height="9.2" fill="#c0c0c3"/>
<rect x="413.92" y="275.84" width="8.7" height="9.2" fill="#c0c0c3"/>
<rect x="423.98" y="275.84" width="8.7" height="9.2" fill="#c0c0c3"/>
<rect x="434.04" y="275.84" width="8.7" height="9.2" fill="#c0c0c3"/>
<rect x="444.1" y="275.84" width="8.7" height="9.2" fill="#c0c0c3"/>
<rect x="454.16" y="275.84" width="8.7" height="9.2" fill="#c0c0c3"/>
<rect x="464.22" y="275.84" width="8.7" height="9.2" fill="#c0c0c3"/>
<rect x="474.28" y="275.84" width="8.7" height="9.2" fill="#c0c0c3"/>
<rect x="484.34" y="275.84" width="8.7" height="9.2" fill="#c0c0c3"/>
<rect x="494.4" y="275.84" width="8.7" height="9.2" fill="#c0c0c3"/>
<rect x="504.46" y="275.84" width="8.7" height="9.2" fill="#c0c0c3"/>
<rect x="6.2" y="286.52" width="60.6" height="9.2" fill="#bebdc1"/>
<rect x="68.2" y="286.52" width="8.7" height="9.2" fill="#c0c0c3"/>
<rect x="78.36" y="286.52" width="8.7" height="9.2" fill="#c0c0c3"/>
<rect x="88.53" y="286.52" width="8.7" height="9.2" fill="#32b64a"/>
<rect x="98.69" y="286.52" width="8.7" height="9.2" fill="#c0c0c3"/>
<rect x="108.85" y="286.52" width="8.7" height="9.2" fill="#c0c0c3"/>
<rect x="119.02" y="286.52" width="8.7" height="9.2" fill="#c0c0c3"/>
<rect x="129.18" y="286.52" width="8.7" height="9.2" fill="#c0c0c3"/>
<rect x="139.34" y="286.52" width="8.7" height="9.2" fill="#c0c0c3"/>
<rect x="149.5" y="286.52" width="8.7" height="9.2" fill="#c0c0c3"/>
<rect x="159.67" y="286.52" width="8.7" height="9.2" fill="#c0c0c3"/>
<rect x="169.83" y="286.52" width="8.7" height="9.2" fill="#c0c0c3"/>
<rect x="179.99" y="286.52" width="8.7" height="9.2" fill="#c0c0c3"/>
<rect x="190.16" y="286.52" width="8.7" height="9.2" fill="#c0c0c3"/>
<rect x="200.32" y="286.52" width="8.7" height="9.2" fill="#c0c0c3"/>
<rect x="210.48" y="286.52" width="8.7" height="9.2" fill="#c0c0c3"/>
<rect x="220.64" y="286.52" width="8.7" height="9.2" fill="#c0c0c3"/>
<rect x="230.81" y="286.52" width="8.7" height="9.2" fill="#c0c0c3"/>
<rect x="240.97" y="286.52" width="8.7" height="9.2" fill="#c0c0c3"/>
<rect x="251.13" y="286.52" width="8.7" height="9.2" fill="#c0c0c3"/>
<rect x="261.3" y="286.52" width="8.7" height="9.2" fill="#c0c0c3"/>
<rect x="271.46" y="286.52" width="8.7" height="9.2" fill="#c0c0c3"/>
<rect x="281.62" y="286.52" width="8.7" height="9.2" fill="#c0c0c3"/>
<rect x="291.79" y="286.52" width="8.7" height="9.2" fill="#c0c0c3"/>
<rect x="301.95" y="286.52" width="8.7" height="9.2" fill="#c0c0c3"/>
<rect x="312.11" y="286.52" width="8.7" height="9.2" fill="#c0c0c3"/>
<rect x="322.28" y="286.52" width="8.7" height="9.2" fill="#c0c0c3"/>
<rect x="332.44" y="286.52" width="8.7" height="9.2" fill="#c0c0c3"/>
<rect x="342.6" y="286.52" width="8.7" height="9.2" fill="#c0c0c3"/>
<rect x="352.76" y="286.52" width="8.7" height="9.2" fill="#c0c0c3"/>
<rect x="362.93" y="286.52" width="8.7" height="9.2" fill="#c0c0c3"/>
<rect x="373.09" y="286.52" width="8.7" height="9.2" fill="#c0c0c3"/>
<rect x="393.8" y="286.52" width="8.7" height="9.2" fill="#c0c0c3"/>
<rect x="403.86" y="286.52" width="8.7" height="9.2" fill="#c0c0c3"/>
<rect x="413.92" y="286.52" width="8.7" height="9.2" fill="#c0c0c3"/>
<rect x="423.98" y="286.52" width="8.7" height="9.2" fill="#c0c0c3"/>
<rect x="434.04" y="286.52" width="8.7" height="9.2" fill="#c0c0c3"/>
<rect x="444.1" y="286.52" width="8.7" height="9.2" fill="#c0c0c3"/>
<rect x="454.16" y="286.52" width="8.7" height="9.2" fill="#c0c0c3"/>
<rect x="464.22" y="286.52" width="8.7" height="9.2" fill="#c0c0c3"/>
<rect x="474.28" y="286.52" width="8.7" height="9.2" fill="#c0c0c3"/>
<rect x="484.34" y="286.52" width="8.7" height="9.2" fill="#c0c0c3"/>
<rect x="494.4" y="286.52" width="8.7" height="9.2" fill="#c0c0c3"/>
<rect x="504.46" y="286.52" width="8.7" height="9.2" fill="#c0c0c3"/>
<rect x="6.2" y="297.2" width="60.6" height="9.2" fill="#bebdc1"/>
<rect x="68.2" y="297.2" width="8.7" height="9.2" fill="#c0c0c3"/>
<rect x="78.36" y="297.2" width="8.7" height="9.2" fill="#c0c0c3"/>
<rect x="88.53" y="297.2" width="8.7" height="9.2" fill="#c0c0c3"/>
<rect x="98.69" y="297.2" width="8.7" height="9.2" fill="#c0c0c3"/>
<rect x="108.85" y="297.2" width="8.7" height="9.2" fill="#c0c0c3"/>
<rect x="119.02" y="297.2" width="8.7" height="9.2" fill="#c0c0c3"/>
<rect x="129.18" y="297.2" width="8.7" height="9.2" fill="#c0c0c3"/>
<rect x="139.34" y="297.2" width="8.7" height="9.2" fill="#c0c0c3"/>
<rect x="149.5" y="297.2" width="8.7" height="9.2" fill="#c0c0c3"/>
<rect x="159.67" y="297.2" width="8.7" height="9.2" fill="#c0c0c3"/>
<rect x="169.83" y="297.2" width="8.7" height="9.2" fill="#c0c0c3"/>
<rect x="179.99" y="297.2" width="8.7" height="9.2" fill="#c0c0c3"/>
<rect x="190.16" y="297.2" width="8.7" height="9.2" fill="#c0c0c3"/>
<rect x="200.32" y="297.2" width="8.7" height="9.2" fill="#c0c0c3"/>
<rect x="210.48" y="297.2" width="8.7" height="9.2" fill="#c0c0c3"/>
<rect x="220.64" y="297.2" width="8.7" height="9.2" fill="#c0c0c3"/>
<rect x="230.81" y="297.2" width="8.7" height="9.2" fill="#c0c0c3"/>
<rect x="240.97" y="297.2" width="8.7" height="9.2" fill="#c0c0c3"/>
<rect x="251.13" y="297.2" width="8.7" height="9.2" fill="#c0c0c3"/>
<rect x="261.3" y="297.2" width="8.7" height="9.2" fill="#c0c0c3"/>
<rect x="271.46" y="297.2" width="8.7" height="9.2" fill="#c0c0c3"/>
<rect x="281.62" y="297.2" width="8.7" height="9.2" fill="#c0c0c3"/>
<rect x="291.79" y="297.2" width="8.7" height="9.2" fill="#c0c0c3"/>
<rect x="301.95" y="297.2" width="8.7" height="9.2" fill="#c0c0c3"/>
<rect x="312.11" y="297.2" width="8.7" height="9.2" fill="#c0c0c3"/>
<rect x="322.28" y="297.2" width="8.7" height="9.2" fill="#c0c0c3"/>
<rect x="332.44" y="297.2" width="8.7" height="9.2" fill="#c0c0c3"/>
<rect x="342.6" y="297.2" width="8.7" height="9.2" fill="#c0c0c3"/>
<rect x="352.76" y="297.2" width="8.7" height="9.2" fill="#c0c0c3"/>
<rect x="362.93" y="297.2" width="8.7" height="9.2" fill="#c0c0c3"/>
<rect x="373.09" y="297.2" width="8.7" height="9.2" fill="#c0c0c3"/>
<rect x="393.8" y="297.2" width="8.7" height="9.2" fill="#c0c0c3"/>
<rect x="403.86" y="297.2" width="8.7" height="9.2" fill="#c0c0c3"/>
<rect x="413.92" y="297.2" width="8.7" height="9.2" fill="#c0c0c3"/>
<rect x="423.98" y="297.2" width="8.7" height="9.2" fill="#c0c0c3"/>
<rect x="434.04" y="297.2" width="8.7" height="9.2" fill="#c0c0c3"/>
<rect x="444.1" y="297.2" width="8.7" height="9.2" fill="#c0c0c3"/>
<rect x="454.16" y="297.2" width="8.7" height="9.2" fill="#c0c0c3"/>
<rect x="464.22" y="297.2" width="8.7" height="9.2" fill="#c0c0c3"/>
<rect x="474.28" y="297.2" width="8.7" height="9.2" fill="#c0c0c3"/>
<rect x="484.34" y="297.2" width="8.7" height="9.2" fill="#c0c0c3"/>
<rect x="494.4" y="297.2" width="8.7" height="9.2" fill="#c0c0c3"/>
<rect x="504.46" y="297.2" width="8.7" height="9.2" fill="#c0c0c3"/>
<rect x="6.2" y="307.88" width="60.6" height="9.2" fill="#bebdc1"/>
<rect x="68.2" y="307.88" width="8.7" height="9.2" fill="#c0c0c3"/>
<rect x="78.36" y="307.88" width="8.7" height="9.2" fill="#c0c0c3"/>
<rect x="88.53" y="307.88" width="8.7" height="9.2" fill="#c0c0c3"/>
<rect x="98.69" y="307.88" width="8.7" height="9.2" fill="#32b64a"/>
<rect x="108.85" y="307.88" width="8.7" height="9.2" fill="#c0c0c3"/>
<rect x="119.02" y="307.88" width="8.7" height="9.2" fill="#c0c0c3"/>
<rect x="129.18" y="307.88" width="8.7" height="9.2" fill="#c0c0c3"/>
<rect x="139.34" y="307.88" width="8.7" height="9.2" fill="#c0c0c3"/>
<rect x="149.5" y="307.88" width="8.7" height="9.2" fill="#c0c0c3"/>
<rect x="159.67" y="307.88" width="8.7" height="9.2" fill="#c0c0c3"/>
<rect x="169.83" y="307.88" width="8.7" height="9.2" fill="#c0c0c3"/>
<rect x="179.99" y="307.88" width="8.7" height="9.2" fill="#c0c0c3"/>
<rect x="190.16" y="307.88" width="8.7" height="9.2" fill="#c0c0c3"/>
<rect x="200.32" y="307.88" width="8.7" height="9.2" fill="#c0c0c3"/>
<rect x="210.48" y="307.88" width="8.7" height="9.2" fill="#c0c0c3"/>
<rect x="220.64" y="307.88" width="8.7" height="9.2" fill="#c0c0c3"/>
<rect x="230.81" y="307.88" width="8.7" height="9.2" fill="#c0c0c3"/>
<rect x="240.97" y="307.88" width="8.7" height="9.2" fill="#c0c0c3"/>
<rect x="251.13" y="307.88" width="8.7" height="9.2" fill="#c0c0c3"/>
<rect x="261.3" y="307.88" width="8.7" height="9.2" fill="#c0c0c3"/>
<rect x="271.46" y="307.88" width="8.7" height="9.2" fill="#c0c0c3"/>
<rect x="281.62" y="307.88" width="8.7" height="9.2" fill="#c0c0c3"/>
<rect x="291.79" y="307.88" width="8.7" height="9.2" fill="#c0c0c3"/>
<rect x="301.95" y="307.88" width="8.7" height="9.2" fill="#c0c0c3"/>
<rect x="312.11" y="307.88" width="8.7" height="9.2" fill="#c0c0c3"/>
<rect x="322.28" y="307.88" width="8.7" height="9.2" fill="#c0c0c3"/>
<rect x="332.44" y="307.88" width="8.7" height="9.2" fill="#c0c0c3"/>
<rect x="342.6" y="307.88" width="8.7" height="9.2" fill="#c0c0c3"/>
<rect x="352.76" y="307.88" width="8.7" height="9.2" fill="#c0c0c3"/>
<rect x="362.93" y="307.88" width="8.7" height="9.2" fill="#c0c0c3"/>
<rect x="373.09" y="307.88" width="8.7" height="9.2" fill="#c0c0c3"/>
<rect x="393.8" y="307.88" width="8.7" height="9.2" fill="#c0c0c3"/>
<rect x="403.86" y="307.88" width="8.7" height="9.2" fill="#c0c0c3"/>
<rect x="413.92" y="307.88" width="8.7" height="9.2" fill="#c0c0c3"/>
<rect x="423.98" y="307.88" width="8.7" height="9.2" fill="#c0c0c3"/>
<rect x="434.04" y="307.88" width="8.7" height="9.2" fill="#c0c0c3"/>
<rect x="444.1" y="307.88" width="8.7" height="9.2" fill="#c0c0c3"/>
<rect x="454.16" y="307.88" width="8.7" height="9.2" fill="#c0c0c3"/>
<rect x="464.22" y="307.88" width="8.7" height="9.2" fill="#c0c0c3"/>
<rect x="474.28" y="307.88" width="8.7" height="9.2" fill="#c0c0c3"/>
<rect x="484.34" y="307.88" width="8.7" height="9.2" fill="#c0c0c3"/>
<rect x="494.4" y="307.88" width="8.7" height="9.2" fill="#c0c0c3"/>
<rect x="504.46" y="307.88" width="8.7" height="9.2" fill="#c0c0c3"/>
<rect x="6.2" y="318.56" width="60.6" height="9.2" fill="#bebdc1"/>
<rect x="68.2" y="318.56" width="8.7" height="9.2" fill="#c0c0c3"/>
<rect x="78.36" y="318.56" width="8.7" height="9.2" fill="#c0c0c3"/>
<rect x="88.53" y="318.56" width="8.7" height="9.2" fill="#c0c0c3"/>
<rect x="98.69" y="318.56" width="8.7" height="9.2" fill="#c0c0c3"/>
<rect x="108.85" y="318.56" width="8.7" height="9.2" fill="#c0c0c3"/>
<rect x="119.02" y="318.56" width="8.7" height="9.2" fill="#c0c0c3"/>
<rect x="129.18" y="318.56" width="8.7" height="9.2" fill="#c0c0c3"/>
<rect x="139.34" y="318.56" width="8.7" height="9.2" fill="#c0c0c3"/>
<rect x="149.5" y="318.56" width="8.7" height="9.2" fill="#c0c0c3"/>
<rect x="159.67" y="318.56" width="8.7" height="9.2" fill="#c0c0c3"/>
<rect x="169.83" y="318.56" width="8.7" height="9.2" fill="#c0c0c3"/>
<rect x="179.99" y="318.56" width="8.7" height="9.2" fill="#c0c0c3"/>
<rect x="190.16" y="318.56" width="8.7" height="9.2" fill="#c0c0c3"/>
<rect x="200.32" y="318.56" width="8.7" height="9.2" fill="#c0c0c3"/>
<rect x="210.48" y="318.56" width="8.7" height="9.2" fill="#c0c0c3"/>
<rect x="220.64" y="318.56" width="8.7" height="9.2" fill="#c0c0c3"/>
<rect x="230.81" y="318.56" width="8.7" height="9.2" fill="#c0c0c3"/>
<rect x="240.97" y="318.56" width="8.7" height="9.2" fill="#c0c0c3"/>
<rect x="251.13" y="318.56" width="8.7" height="9.2" fill="#c0c0c3"/>
<rect x="261.3" y="318.56" width="8.7" height="9.2" fill="#c0c0c3"/>
<rect x="271.46" y="318.56" width="8.7" height="9.2" fill="#c0c0c3"/>
<rect x="281.62" y="318.56" width="8.7" height="9.2" fill="#c0c0c3"/>
<rect x="291.79" y="318.56" width="8.7" height="9.2" fill="#c0c0c3"/>
<rect x="301.95" y="318.56" width="8.7" height="9.2" fill="#c0c0c3"/>
<rect x="312.11" y="318.56" width="8.7" height="9.2" fill="#c0c0c3"/>
<rect x="322.28" y="318.56" width="8.7" height="9.2" fill="#c0c0c3"/>
<rect x="332.44" y="318.56" width="8.7" height="9.2" fill="#c0c0c3"/>
<rect x="342.6" y="318.56" width="8.7" height="9.2" fill="#c0c0c3"/>
<rect x="352.76" y="318.56" width="8.7" height="9.2" fill="#c0c0c3"/>
<rect x="362.93" y="318.56" width="8.7" height="9.2" fill="#c0c0c3"/>
<rect x="373.09" y="318.56" width="8.7" height="9.2" fill="#c0c0c3"/>
<rect x="393.8" y="318.56" width="8.7" height="9.2" fill="#c0c0c3"/>
<rect x="403.86" y="318.56" width="8.7" height="9.2" fill="#c0c0c3"/>
<rect x="413.92" y="318.56" width="8.7" height="9.2" fill="#c0c0c3"/>
<rect x="423.98" y="318.56" width="8.7" height="9.2" fill="#c0c0c3"/>
<rect x="434.04" y="318.56" width="8.7" height="9.2" fill="#c0c0c3"/>
<rect x="444.1" y="318.56" width="8.7" height="9.2" fill="#c0c0c3"/>
<rect x="454.16" y="318.56" width="8.7" height="9.2" fill="#c0c0c3"/>
<rect x="464.22" y="318.56" width="8.7" height="9.2" fill="#c0c0c3"/>
<rect x="474.28" y="318.56" width="8.7" height="9.2" fill="#c0c0c3"/>
<rect x="484.34" y="318.56" width="8.7" height="9.2" fill="#c0c0c3"/>
<rect x="494.4" y="318.56" width="8.7" height="9.2" fill="#c0c0c3"/>
<rect x="504.46" y="318.56" width="8.7" height="9.2" fill="#c0c0c3"/>
<rect x="6.2" y="329.24" width="60.6" height="9.2" fill="#bebdc1"/>
<rect x="68.2" y="329.24" width="8.7" height="9.2" fill="#c0c0c3"/>
<rect x="78.36" y="329.24" width="8.7" height="9.2" fill="#c0c0c3"/>
<rect x="88.53" y="329.24" width="8.7" height="9.2" fill="#c0c0c3"/>
<rect x="98.69" y="329.24" width="8.7" height="9.2" fill="#c0c0c3"/>
<rect x="108.85" y="329.24" width="8.7" height="9.2" fill="#c0c0c3"/>
<rect x="119.02" y="329.24" width="8.7" height="9.2" fill="#c0c0c3"/>
<rect x="129.18" y="329.24" width="8.7" height="9.2" fill="#c0c0c3"/>
<rect x="139.34" y="329.24" width="8.7" height="9.2" fill="#c0c0c3"/>
<rect x="149.5" y="329.24" width="8.7" height="9.2" fill="#c0c0c3"/>
<rect x="159.67" y="329.24" width="8.7" height="9.2" fill="#c0c0c3"/>
<rect x="169.83" y="329.24" width="8.7" height="9.2" fill="#c0c0c3"/>
<rect x="179.99" y="329.24" width="8.7" height="9.2" fill="#32b64a"/>
<rect x="190.16" y="329.24" width="8.7" height="9.2" fill="#c0c0c3"/>
<rect x="200.32" y="329.24" width="8.7" height="9.2" fill="#c0c0c3"/>
<rect x="210.48" y="329.24" width="8.7" height="9.2" fill="#c0c0c3"/>
<rect x="220.64" y="329.24" width="8.7" height="9.2" fill="#c0c0c3"/>
<rect x="230.81" y="329.24" width="8.7" height="9.2" fill="#c0c0c3"/>
<rect x="240.97" y="329.24" width="8.7" height="9.2" fill="#c0c0c3"/>
<rect x="251.13" y="329.24" width="8.7" height="9.2" fill="#c0c0c3"/>
<rect x="261.3" y="329.24" width="8.7" height="9.2" fill="#c0c0c3"/>
<rect x="271.46" y="329.24" width="8.7" height="9.2" fill="#c0c0c3"/>
<rect x="281.62" y="329.24" width="8.7" height="9.2" fill="#c0c0c3"/>
<rect x="291.79" y="329.24" width="8.7" height="9.2" fill="#c0c0c3"/>
<rect x="301.95" y="329.24" width="8.7" height="9.2" fill="#c0c0c3"/>
<rect x="312.11" y="329.24" width="8.7" height="9.2" fill="#c0c0c3"/>
<rect x="322.28" y="329.24" width="8.7" height="9.2" fill="#c0c0c3"/>
<rect x="332.44" y="329.24" width="8.7" height="9.2" fill="#c0c0c3"/>
<rect x="342.6" y="329.24" width="8.7" height="9.2" fill="#c0c0c3"/>
<rect x="352.76" y="329.24" width="8.7" height="9.2" fill="#c0c0c3"/>
<rect x="362.93" y="329.24" width="8.7" height="9.2" fill="#c0c0c3"/>
<rect x="373.09" y="329.24" width="8.7" height="9.2" fill="#c0c0c3"/>
<rect x="393.8" y="329.24" width="8.7" height="9.2" fill="#c0c0c3"/>
<rect x="403.86" y="329.24" width="8.7" height="9.2" fill="#c0c0c3"/>
<rect x="413.92" y="329.24" width="8.7" height="9.2" fill="#c0c0c3"/>
<rect x="423.98" y="329.24" width="8.7" height="9.2" fill="#c0c0c3"/>
<rect x="434.04" y="329.24" width="8.7" height="9.2" fill="#c0c0c3"/>
<rect x="444.1" y="329.24" width="8.7" height="9.2" fill="#c0c0c3"/>
<rect x="454.16" y="329.24" width="8.7" height="9.2" fill="#c0c0c3"/>
<rect x="464.22" y="329.24" width="8.7" height="9.2" fill="#c0c0c3"/>
<rect x="474.28" y="329.24" width="8.7" height="9.2" fill="#c0c0c3"/>
<rect x="484.34" y="329.24" width="8.7" height="9.2" fill="#c0c0c3"/>
<rect x="494.4" y="329.24" width="8.7" height="9.2" fill="#c0c0c3"/>
<rect x="504.46" y="329.24" width="8.7" height="9.2" fill="#c0c0c3"/>
<rect x="6.2" y="339.92" width="60.6" height="9.2" fill="#bebdc1"/>
<rect x="68.2" y="339.92" width="8.7" height="9.2" fill="#c0c0c3"/>
<rect x="78.36" y="339.92" width="8.7" height="9.2" fill="#c0c0c3"/>
<rect x="88.53" y="339.92" width="8.7" height="9.2" fill="#c0c0c3"/>
<rect x="98.69" y="339.92" width="8.7" height="9.2" fill="#c0c0c3"/>
<rect x="108.85" y="339.92" width="8.7" height="9.2" fill="#c0c0c3"/>
<rect x="119.02" y="339.92" width="8.7" height="9.2" fill="#c0c0c3"/>
<rect x="129.18" y="339.92" width="8.7" height="9.2" fill="#c0c0c3"/>
<rect x="139.34" y="339.92" width="8.7" height="9.2" fill="#c0c0c3"/>
<rect x="149.5" y="339.92" width="8.7" height="9.2" fill="#c0c0c3"/>
<rect x="159.67" y="339.92" width="8.7" height="9.2" fill="#c0c0c3"/>
<rect x="169.83" y="339.92" width="8.7" height="9.2" fill="#c0c0c3"/>
<rect x="179.99" y="339.92" width="8.7" height="9.2" fill="#c0c0c3"/>
<rect x="190.16" y="339.92" width="8.7" height="9.2" fill="#c0c0c3"/>
<rect x="200.32" y="339.92" width="8.7" height="9.2" fill="#c0c0c3"/>
<rect x="210.48" y="339.92" width="8.7" height="9.2" fill="#c0c0c3"/>
<rect x="220.64" y="339.92" width="8.7" height="9.2" fill="#c0c0c3"/>
<rect x="230.81" y="339.92" width="8.7" height="9.2" fill="#c0c0c3"/>
<rect x="240.97" y="339.92" width="8.7" height="9.2" fill="#c0c0c3"/>
<rect x="251.13" y="339.92" width="8.7" height="9.2" fill="#c0c0c3"/>
<rect x="261.3" y="339.92" width="8.7" height="9.2" fill="#32b64a"/>
<rect x="271.46" y="339.92" width="8.7" height="9.2" fill="#c0c0c3"/>
<rect x="281.62" y="339.92" width="8.7" height="9.2" fill="#c0c0c3"/>
<rect x="291.79" y="339.92" width="8.7" height="9.2" fill="#c0c0c3"/>
<rect x="301.95" y="339.92" width="8.7" height="9.2" fill="#c0c0c3"/>
<rect x="312.11" y="339.92" width="8.7" height="9.2" fill="#c0c0c3"/>
<rect x="322.28" y="339.92" width="8.7" height="9.2" fill="#c0c0c3"/>
<rect x="332.44" y="339.92" width="8.7" height="9.2" fill="#c0c0c3"/>
<rect x="342.6" y="339.92" width="8.7" height="9.2" fill="#c0c0c3"/>
<rect x="352.76" y="339.92" width="8.7" height="9.2" fill="#c0c0c3"/>
<rect x="362.93" y="339.92" width="8.7" height="9.2" fill="#c0c0c3"/>
<rect x="373.09" y="339.92" width="8.7" height="9.2" fill="#c0c0c3"/>
<rect x="393.8" y="339.92" width="8.7" height="9.2" fill="#c0c0c3"/>
<rect x="403.86" y="339.92" width="8.7" height="9.2" fill="#c0c0c3"/>
<rect x="413.92" y="339.92" width="8.7" height="9.2" fill="#c0c0c3"/>
<rect x="423.98" y="339.92" width="8.7" height="9.2" fill="#c0c0c3"/>
<rect x="434.04" y="339.92" width="8.7" height="9.2" fill="#c0c0c3"/>
<rect x="444.1" y="339.92" width="8.7" height="9.2" fill="#c0c0c3"/>
<rect x="454.16" y="339.92" width="8.7" height="9.2" fill="#c0c0c3"/>
<rect x="464.22" y="339.92" width="8.7" height="9.2" fill="#c0c0c3"/>
<rect x="474.28" y="339.92" width="8.7" height="9.2" fill="#c0c0c3"/>
<rect x="484.34" y="339.92" width="8.7" height="9.2" fill="#c0c0c3"/>
<rect x="494.4" y="339.92" width="8.7" height="9.2" fill="#c0c0c3"/>
<rect x="504.46" y="339.92" width="8.7" height="9.2" fill="#c0c0c3"/>
<rect x="6.2" y="350.6" width="60.6" height="9.2" fill="#bebdc1"/>
<rect x="68.2" y="350.6" width="8.7" height="9.2" fill="#c0c0c3"/>
<rect x="78.36" y="350.6" width="8.7" height="9.2" fill="#c0c0c3"/>
<rect x="88.53" y="350.6" width="8.7" height="9.2" fill="#c0c0c3"/>
<rect x="98.69" y="350.6" width="8.7" height="9.2" fill="#c0c0c3"/>
<rect x="108.85" y="350.6" width="8.7" height="9.2" fill="#c0c0c3"/>
<rect x="119.02" y="350.6" width="8.7" height="9.2" fill="#c0c0c3"/>
<rect x="129.18" y="350.6" width="8.7" height="9.2" fill="#c0c0c3"/>
<rect x="139.34" y="350.6" width="8.7" height="9.2" fill="#c0c0c3"/>
<rect x="149.5" y="350.6" width="8.7" height="9.2" fill="#c0c0c3"/>
<rect x="159.67" y="350.6" width="8.7" height="9.2" fill="#c0c0c3"/>
<rect x="169.83" y="350.6" width="8.7" height="9.2" fill="#c0c0c3"/>
<rect x="179.99" y="350.6" width="8.7" height="9.2" fill="#c0c0c3"/>
<rect x="190.16" y="350.6" width="8.7" height="9.2" fill="#c0c0c3"/>
<rect x="200.32" y="350.6" width="8.7" height="9.2" fill="#c0c0c3"/>
<rect x="210.48" y="350.6" width="8.7" height="9.2" fill="#c0c0c3"/>
<rect x="220.64" y="350.6" width="8.7" height="9.2" fill="#c0c0c3"/>
<rect x="230.81" y="350.6" width="8.7" height="9.2" fill="#c0c0c3"/>
<rect x="240.97" y="350.6" width="8.7" height="9.2" fill="#c0c0c3"/>
<rect x="251.13" y="350.6" width="8.7" height="9.2" fill="#c0c0c3"/>
<rect x="261.3" y="350.6" width="8.7" height="9.2" fill="#32b64a"/>
<rect x="271.46" y="350.6" width="8.7" height="9.2" fill="#c0c0c3"/>
<rect x="281.62" y="350.6" width="8.7" height="9.2" fill="#c0c0c3"/>
<rect x="291.79" y="350.6" width="8.7" height="9.2" fill="#c0c0c3"/>
<rect x="301.95" y="350.6" width="8.7" height="9.2" fill="#c0c0c3"/>
<rect x="312.11" y="350.6" width="8.7" height="9.2" fill="#c0c0c3"/>
<rect x="322.28" y="350.6" width="8.7" height="9.2" fill="#c0c0c3"/>
<rect x="332.44" y="350.6" width="8.7" height="9.2" fill="#c0c0c3"/>
<rect x="342.6" y="350.6" width="8.7" height="9.2" fill="#c0c0c3"/>
<rect x="352.76" y="350.6" width="8.7" height="9.2" fill="#c0c0c3"/>
<rect x="362.93" y="350.6" width="8.7" height="9.2" fill="#c0c0c3"/>
<rect x="373.09" y="350.6" width="8.7" height="9.2" fill="#c0c0c3"/>
<rect x="393.8" y="350.6" width="8.7" height="9.2" fill="#c0c0c3"/>
<rect x="403.86" y="350.6" width="8.7" height="9.2" fill="#c0c0c3"/>
<rect x="413.92" y="350.6" width="8.7" height="9.2" fill="#c0c0c3"/>
<rect x="423.98" y="350.6" width="8.7" height="9.2" fill="#c0c0c3"/>
<rect x="434.04" y="350.6" width="8.7" height="9.2" fill="#c0c0c3"/>
<rect x="444.1" y="350.6" width="8.7" height="9.2" fill="#c0c0c3"/>
<rect x="454.16" y="350.6" width="8.7" height="9.2" fill="#c0c0c3"/>
<rect x="464.22" y="350.6" width="8.7" height="9.2" fill="#c0c0c3"/>
<rect x="474.28" y="350.6" width="8.7" height="9.2" fill="#c0c0c3"/>
<rect x="484.34" y="350.6" width="8.7" height="9.2" fill="#c0c0c3"/>
<rect x="494.4" y="350.6" width="8.7" height="9.2" fill="#c0c0c3"/>
<rect x="504.46" y="350.6" width="8.7" height="9.2" fill="#c0c0c3"/>
<rect x="6.2" y="361.28" width="60.6" height="9.2" fill="#bebdc1"/>
<rect x="68.2" y="361.28" width="8.7" height="9.2" fill="#c0c0c3"/>
<rect x="78.36" y="361.28" width="8.7" height="9.2" fill="#c0c0c3"/>
<rect x="88.53" y="361.28" width="8.7" height="9.2" fill="#c0c0c3"/>
<rect x="98.69" y="361.28" width="8.7" height="9.2" fill="#c0c0c3"/>
<rect x="108.85" y="361.28" width="8.7" height="9.2" fill="#c0c0c3"/>
<rect x="119.02" y="361.28" width="8.7" height="9.2" fill="#c0c0c3"/>
<rect x="129.18" y="361.28" width="8.7" height="9.2" fill="#c0c0c3"/>
<rect x="139.34" y="361.28" width="8.7" height="9.2" fill="#c0c0c3"/>
<rect x="149.5" y="361.28" width="8.7" height="9.2" fill="#c0c0c3"/>
<rect x="159.67" y="361.28" width="8.7" height="9.2" fill="#c0c0c3"/>
<rect x="169.83" y="361.28" width="8.7" height="9.2" fill="#c0c0c3"/>
<rect x="179.99" y="361.28" width="8.7" height="9.2" fill="#c0c0c3"/>
<rect x="190.16" y="361.28" width="8.7" height="9.2" fill="#c0c0c3"/>
<rect x="200.32" y="361.28" width="8.7" height="9.2" fill="#c0c0c3"/>
<rect x="210.48" y="361.28" width="8.7" height="9.2" fill="#c0c0c3"/>
<rect x="220.64" y="361.28" width="8.7" height="9.2" fill="#c0c0c3"/>
<rect x="230.81" y="361.28" width="8.7" height="9.2" fill="#c0c0c3"/>
<rect x="240.97" y="361.28" width="8.7" height="9.2" fill="#c0c0c3"/>
<rect x="251.13" y="361.28" width="8.7" height="9.2" fill="#c0c0c3"/>
<rect x="261.3" y="361.28" width="8.7" height="9.2" fill="#32b64a"/>
<rect x="271.46" y="361.28" width="8.7" height="9.2" fill="#c0c0c3"/>
<rect x="281.62" y="361.28" width="8.7" height="9.2" fill="#c0c0c3"/>
<rect x="291.79" y="361.28" width="8.7" height="9.2" fill="#c0c0c3"/>
<rect x="301.95" y="361.28" width="8.7" height="9.2" fill="#c0c0c3"/>
<rect x="312.11" y="361.28" width="8.7" height="9.2" fill="#c0c0c3"/>
<rect x="322.28" y="361.28" width="8.7" height="9.2" fill="#c0c0c3"/>
<rect x="332.44" y="361.28" width="8.7" height="9.2" fill="#c0c0c3"/>
<rect x="342.6" y="361.28" width="8.7" height="9.2" fill="#c0c0c3"/>
<rect x="352.76" y="361.28" width="8.7" height="9.2" fill="#c0c0c3"/>
<rect x="362.93" y="361.28" width="8.7" height="9.2" fill="#c0c0c3"/>
<rect x="373.09" y="361.28" width="8.7" height="9.2" fill="#c0c0c3"/>
<rect x="393.8" y="361.28" width="8.7" height="9.2" fill="#c0c0c3"/>
<rect x="403.86" y="361.28" width="8.7" height="9.2" fill="#c0c0c3"/>
<rect x="413.92" y="361.28" width="8.7" height="9.2" fill="#c0c0c3"/>
<rect x="423.98" y="361.28" width="8.7" height="9.2" fill="#c0c0c3"/>
<rect x="434.04" y="361.28" width="8.7" height="9.2" fill="#c0c0c3"/>
<rect x="444.1" y="361.28" width="8.7" height="9.2" fill="#c0c0c3"/>
<rect x="454.16" y="361.28" width="8.7" height="9.2" fill="#c0c0c3"/>
<rect x="464.22" y="361.28" width="8.7" height="9.2" fill="#c0c0c3"/>
<rect x="474.28" y="361.28" width="8.7" height="9.2" fill="#c0c0c3"/>
<rect x="484.34" y="361.28" width="8.7" height="9.2" fill="#c0c0c3"/>
<rect x="494.4" y="361.28" width="8.7" height="9.2" fill="#c0c0c3"/>
<rect x="504.46" y="361.28" width="8.7" height="9.2" fill="#c0c0c3"/>
<rect x="6.2" y="371.96" width="60.6" height="9.2" fill="#bebdc1"/>
<rect x="68.2" y="371.96" width="8.7" height="9.2" fill="#c0c0c3"/>
<rect x="78.36" y="371.96" width="8.7" height="9.2" fill="#c0c0c3"/>
<rect x="88.53" y="371.96" width="8.7" height="9.2" fill="#c0c0c3"/>
<rect x="98.69" y="371.96" width="8.7" height="9.2" fill="#c0c0c3"/>
<rect x="108.85" y="371.96" width="8.7" height="9.2" fill="#c0c0c3"/>
<rect x="119.02" y="371.96" width="8.7" height="9.2" fill="#c0c0c3"/>
<rect x="129.18" y="371.96" width="8.7" height="9.2" fill="#c0c0c3"/>
<rect x="139.34" y="371.96" width="8.7" height="9.2" fill="#c0c0c3"/>
<rect x="149.5" y="371.96" width="8.7" height="9.2" fill="#c0c0c3"/>
<rect x="159.67" y="371.96" width="8.7" height="9.2" fill="#c0c0c3"/>
<rect x="169.83" y="371.96" width="8.7" height="9.2" fill="#c0c0c3"/>
<rect x="179.99" y="371.96" width="8.7" height="9.2" fill="#c0c0c3"/>
<rect x="190.16" y="371.96" width="8.7" height="9.2" fill="#c0c0c3"/>
<rect x="200.32" y="371.96" width="8.7" height="9.2" fill="#c0c0c3"/>
<rect x="210.48" y="371.96" width="8.7" height="9.2" fill="#c0c0c3"/>
<rect x="220.64" y="371.96" width="8.7" height="9.2" fill="#c0c0c3"/>
<rect x="230.81" y="371.96" width="8.7" height="9.2" fill="#c0c0c3"/>
<rect x="240.97" y="371.96" width="8.7" height="9.2" fill="#c0c0c3"/>
<rect x="251.13" y="371.96" width="8.7" height="9.2" fill="#c0c0c3"/>
<rect x="261.3" y="371.96" width="8.7" height="9.2" fill="#c0c0c3"/>
<rect x="271.46" y="371.96" width="8.7" height="9.2" fill="#c0c0c3"/>
<rect x="281.62" y="371.96" width="8.7" height="9.2" fill="#c0c0c3"/>
<rect x="291.79" y="371.96" width="8.7" height="9.2" fill="#c0c0c3"/>
<rect x="301.95" y="371.96" width="8.7" height="9.2" fill="#c0c0c3"/>
<rect x="312.11" y="371.96" width="8.7" height="9.2" fill="#c0c0c3"/>
<rect x="322.28" y="371.96" width="8.7" height="9.2" fill="#c0c0c3"/>
<rect x="332.44" y="371.96" width="8.7" height="9.2" fill="#32b64a"/>
<rect x="342.6" y="371.96" width="8.7" height="9.2" fill="#32b64a"/>
<rect x="352.76" y="371.96" width="8.7" height="9.2" fill="#32b64a"/>
<rect x="362.93" y="371.96" width="8.7" height="9.2" fill="#32b64a"/>
<rect x="373.09" y="371.96" width="8.7" height="9.2" fill="#c0c0c3"/>
<rect x="393.8" y="371.96" width="8.7" height="9.2" fill="#c0c0c3"/>
<rect x="403.86" y="371.96" width="8.7" height="9.2" fill="#c0c0c3"/>
<rect x="413.92" y="371.96" width="8.7" height="9.2" fill="#c0c0c3"/>
<rect x="423.98" y="371.96" width="8.7" height="9.2" fill="#c0c0c3"/>
<rect x="434.04" y="371.96" width="8.7" height="9.2" fill="#32b64a"/>
<rect x="444.1" y="371.96" width="8.7" height="9.2" fill="#32b64a"/>
<rect x="454.16" y="371.96" width="8.7" height="9.2" fill="#c0c0c3"/>
<rect x="464.22" y="371.96" width="8.7" height="9.2" fill="#c0c0c3"/>
<rect x="474.28" y="371.96" width="8.7" height="9.2" fill="#c0c0c3"/>
<rect x="484.34" y="371.96" width="8.7" height="9.2" fill="#c0c0c3"/>
<rect x="494.4" y="371.96" width="8.7" height="9.2" fill="#c0c0c3"/>
<rect x="504.46" y="371.96" width="8.7" height="9.2" fill="#c0c0c3"/>
<rect x="6.2" y="382.64" width="60.6" height="9.2" fill="#bebdc1"/>
<rect x="68.2" y="382.64" width="8.7" height="9.2" fill="#c0c0c3"/>
<rect x="78.36" y="382.64" width="8.7" height="9.2" fill="#c0c0c3"/>
<rect x="88.53" y="382.64" width="8.7" height="9.2" fill="#c0c0c3"/>
<rect x="98.69" y="382.64" width="8.7" height="9.2" fill="#c0c0c3"/>
<rect x="108.85" y="382.64" width="8.7" height="9.2" fill="#c0c0c3"/>
<rect x="119.02" y="382.64" width="8.7" height="9.2" fill="#c0c0c3"/>
<rect x="129.18" y="382.64" width="8.7" height="9.2" fill="#c0c0c3"/>
<rect x="139.34" y="382.64" width="8.7" height="9.2" fill="#c0c0c3"/>
<rect x="149.5" y="382.64" width="8.7" height="9.2" fill="#c0c0c3"/>
<rect x="159.67" y="382.64" width="8.7" height="9.2" fill="#c0c0c3"/>
<rect x="169.83" y="382.64" width="8.7" height="9.2" fill="#c0c0c3"/>
<rect x="179.99" y="382.64" width="8.7" height="9.2" fill="#c0c0c3"/>
<rect x="190.16" y="382.64" width="8.7" height="9.2" fill="#c0c0c3"/>
<rect x="200.32" y="382.64" width="8.7" height="9.2" fill="#c0c0c3"/>
<rect x="210.48" y="382.64" width="8.7" height="9.2" fill="#c0c0c3"/>
<rect x="220.64" y="382.64" width="8.7" height="9.2" fill="#c0c0c3"/>
<rect x="230.81" y="382.64" width="8.7" height="9.2" fill="#c0c0c3"/>
<rect x="240.97" y="382.64" width="8.7" height="9.2" fill="#c0c0c3"/>
<rect x="251.13" y="382.64" width="8.7" height="9.2" fill="#c0c0c3"/>
<rect x="261.3" y="382.64" width="8.7" height="9.2" fill="#c0c0c3"/>
<rect x="271.46" y="382.64" width="8.7" height="9.2" fill="#c0c0c3"/>
<rect x="281.62" y="382.64" width="8.7" height="9.2" fill="#c0c0c3"/>
<rect x="291.79" y="382.64" width="8.7" height="9.2" fill="#c0c0c3"/>
<rect x="301.95" y="382.64" width="8.7" height="9.2" fill="#c0c0c3"/>
<rect x="312.11" y="382.64" width="8.7" height="9.2" fill="#c0c0c3"/>
<rect x="322.28" y="382.64" width="8.7" height="9.2" fill="#32b64a"/>
<rect x="332.44" y="382.64" width="8.7" height="9.2" fill="#c0c0c3"/>
<rect x="342.6" y="382.64" width="8.7" height="9.2" fill="#c0c0c3"/>
<rect x="352.76" y="382.64" width="8.7" height="9.2" fill="#c0c0c3"/>
<rect x="362.93" y="382.64" width="8.7" height="9.2" fill="#c0c0c3"/>
<rect x="373.09" y="382.64" width="8.7" height="9.2" fill="#c0c0c3"/>
<rect x="393.8" y="382.64" width="8.7" height="9.2" fill="#c0c0c3"/>
<rect x="403.86" y="382.64" width="8.7" height="9.2" fill="#c0c0c3"/>
<rect x="413.92" y="382.64" width="8.7" height="9.2" fill="#c0c0c3"/>
<rect x="423.98" y="382.64" width="8.7" height="9.2" fill="#c0c0c3"/>
<rect x="434.04" y="382.64" width="8.7" height="9.2" fill="#c0c0c3"/>
<rect x="444.1" y="382.64" width="8.7" height="9.2" fill="#c0c0c3"/>
<rect x="454.16" y="382.64" width="8.7" height="9.2" fill="#c0c0c3"/>
<rect x="464.22" y="382.64" width="8.7" height="9.2" fill="#c0c0c3"/>
<rect x="474.28" y="382.64" width="8.7" height="9.2" fill="#c0c0c3"/>
<rect x="484.34" y="382.64" width="8.7" height="9.2" fill="#c0c0c3"/>
<rect x="494.4" y="382.64" width="8.7" height="9.2" fill="#c0c0c3"/>
<rect x="504.46" y="382.64" width="8.7" height="9.2" fill="#c0c0c3"/>
<rect x="6.2" y="393.32" width="60.6" height="9.2" fill="#bebdc1"/>
<rect x="68.2" y="393.32" width="8.7" height="9.2" fill="#c0c0c3"/>
<rect x="78.36" y="393.32" width="8.7" height="9.2" fill="#c0c0c3"/>
<rect x="88.53" y="393.32" width="8.7" height="9.2" fill="#c0c0c3"/>
<rect x="98.69" y="393.32" width="8.7" height="9.2" fill="#c0c0c3"/>
<rect x="108.85" y="393.32" width="8.7" height="9.2" fill="#c0c0c3"/>
<rect x="119.02" y="393.32" width="8.7" height="9.2" fill="#c0c0c3"/>
<rect x="129.18" y="393.32" width="8.7" height="9.2" fill="#c0c0c3"/>
<rect x="139.34" y="393.32" width="8.7" height="9.2" fill="#c0c0c3"/>
<rect x="149.5" y="393.32" width="8.7" height="9.2" fill="#c0c0c3"/>
<rect x="159.67" y="393.32" width="8.7" height="9.2" fill="#c0c0c3"/>
<rect x="169.83" y="393.32" width="8.7" height="9.2" fill="#c0c0c3"/>
<rect x="179.99" y="393.32" width="8.7" height="9.2" fill="#c0c0c3"/>
<rect x="190.16" y="393.32" width="8.7" height="9.2" fill="#c0c0c3"/>
<rect x="200.32" y="393.32" width="8.7" height="9.2" fill="#c0c0c3"/>
<rect x="210.48" y="393.32" width="8.7" height="9.2" fill="#c0c0c3"/>
<rect x="220.64" y="393.32" width="8.7" height="9.2" fill="#c0c0c3"/>
<rect x="230.81" y="393.32" width="8.7" height="9.2" fill="#c0c0c3"/>
<rect x="240.97" y="393.32" width="8.7" height="9.2" fill="#c0c0c3"/>
<rect x="251.13" y="393.32" width="8.7" height="9.2" fill="#c0c0c3"/>
<rect x="261.3" y="393.32" width="8.7" height="9.2" fill="#c0c0c3"/>
<rect x="271.46" y="393.32" width="8.7" height="9.2" fill="#c0c0c3"/>
<rect x="281.62" y="393.32" width="8.7" height="9.2" fill="#c0c0c3"/>
<rect x="291.79" y="393.32" width="8.7" height="9.2" fill="#c0c0c3"/>
<rect x="301.95" y="393.32" width="8.7" height="9.2" fill="#32b64a"/>
<rect x="312.11" y="393.32" width="8.7" height="9.2" fill="#32b64a"/>
<rect x="322.28" y="393.32" width="8.7" height="9.2" fill="#c0c0c3"/>
<rect x="332.44" y="393.32" width="8.7" height="9.2" fill="#c0c0c3"/>
<rect x="342.6" y="393.32" width="8.7" height="9.2" fill="#c0c0c3"/>
<rect x="352.76" y="393.32" width="8.7" height="9.2" fill="#c0c0c3"/>
<rect x="362.93" y="393.32" width="8.7" height="9.2" fill="#c0c0c3"/>
<rect x="373.09" y="393.32" width="8.7" height="9.2" fill="#c0c0c3"/>
<rect x="393.8" y="393.32" width="8.7" height="9.2" fill="#c0c0c3"/>
<rect x="403.86" y="393.32" width="8.7" height="9.2" fill="#c0c0c3"/>
<rect x="413.92" y="393.32" width="8.7" height="9.2" fill="#c0c0c3"/>
<rect x="423.98" y="393.32" width="8.7" height="9.2" fill="#c0c0c3"/>
<rect x="434.04" y="393.32" width="8.7" height="9.2" fill="#c0c0c3"/>
<rect x="444.1" y="393.32" width="8.7" height="9.2" fill="#c0c0c3"/>
<rect x="454.16" y="393.32" width="8.7" height="9.2" fill="#c0c0c3"/>
<rect x="464.22" y="393.32" width="8.7" height="9.2" fill="#c0c0c3"/>
<rect x="474.28" y="393.32" width="8.7" height="9.2" fill="#c0c0c3"/>
<rect x="484.34" y="393.32" width="8.7" height="9.2" fill="#c0c0c3"/>
<rect x="494.4" y="393.32" width="8.7" height="9.2" fill="#c0c0c3"/>
<rect x="504.46" y="393.32" width="8.7" height="9.2" fill="#c0c0c3"/>
<rect x="6.2" y="404" width="60.6" height="9.2" fill="#bebdc1"/>
<rect x="68.2" y="404" width="8.7" height="9.2" fill="#c0c0c3"/>
<rect x="78.36" y="404" width="8.7" height="9.2" fill="#c0c0c3"/>
<rect x="88.53" y="404" width="8.7" height="9.2" fill="#c0c0c3"/>
<rect x="98.69" y="404" width="8.7" height="9.2" fill="#c0c0c3"/>
<rect x="108.85" y="404" width="8.7" height="9.2" fill="#c0c0c3"/>
<rect x="119.02" y="404" width="8.7" height="9.2" fill="#c0c0c3"/>
<rect x="129.18" y="404" width="8.7" height="9.2" fill="#c0c0c3"/>
<rect x="139.34" y="404" width="8.7" height="9.2" fill="#c0c0c3"/>
<rect x="149.5" y="404" width="8.7" height="9.2" fill="#c0c0c3"/>
<rect x="159.67" y="404" width="8.7" height="9.2" fill="#c0c0c3"/>
<rect x="169.83" y="404" width="8.7" height="9.2" fill="#c0c0c3"/>
<rect x="179.99" y="404" width="8.7" height="9.2" fill="#c0c0c3"/>
<rect x="190.16" y="404" width="8.7" height="9.2" fill="#c0c0c3"/>
<rect x="200.32" y="404" width="8.7" height="9.2" fill="#c0c0c3"/>
<rect x="210.48" y="404" width="8.7" height="9.2" fill="#c0c0c3"/>
<rect x="220.64" y="404" width="8.7" height="9.2" fill="#c0c0c3"/>
<rect x="230.81" y="404" width="8.7" height="9.2" fill="#c0c0c3"/>
<rect x="240.97" y="404" width="8.7" height="9.2" fill="#c0c0c3"/>
<rect x="251.13" y="404" width="8.7" height="9.2" fill="#c0c0c3"/>
<rect x="261.3" y="404" width="8.7" height="9.2" fill="#32b64a"/>
<rect x="271.46" y="404" width="8.7" height="9.2" fill="#c0c0c3"/>
<rect x="281.62" y="404" width="8.7" height="9.2" fill="#c0c0c3"/>
<rect x="291.79" y="404" width="8.7" height="9.2" fill="#c0c0c3"/>
<rect x="301.95" y="404" width="8.7" height="9.2" fill="#c0c0c3"/>
<rect x="312.11" y="404" width="8.7" height="9.2" fill="#c0c0c3"/>
<rect x="322.28" y="404" width="8.7" height="9.2" fill="#c0c0c3"/>
<rect x="332.44" y="404" width="8.7" height="9.2" fill="#c0c0c3"/>
<rect x="342.6" y="404" width="8.7" height="9.2" fill="#c0c0c3"/>
<rect x="352.76" y="404" width="8.7" height="9.2" fill="#c0c0c3"/>
<rect x="362.93" y="404" width="8.7" height="9.2" fill="#c0c0c3"/>
<rect x="373.09" y="404" width="8.7" height="9.2" fill="#c0c0c3"/>
<rect x="393.8" y="404" width="8.7" height="9.2" fill="#c0c0c3"/>
<rect x="403.86" y="404" width="8.7" height="9.2" fill="#c0c0c3"/>
<rect x="413.92" y="404" width="8.7" height="9.2" fill="#c0c0c3"/>
<rect x="423.98" y="404" width="8.7" height="9.2" fill="#c0c0c3"/>
<rect x="434.04" y="404" width="8.7" height="9.2" fill="#c0c0c3"/>
<rect x="444.1" y="404" width="8.7" height="9.2" fill="#c0c0c3"/>
<rect x="454.16" y="404" width="8.7" height="9.2" fill="#c0c0c3"/>
<rect x="464.22" y="404" width="8.7" height="9.2" fill="#c0c0c3"/>
<rect x="474.28" y="404" width="8.7" height="9.2" fill="#c0c0c3"/>
<rect x="484.34" y="404" width="8.7" height="9.2" fill="#c0c0c3"/>
<rect x="494.4" y="404" width="8.7" height="9.2" fill="#c0c0c3"/>
<rect x="504.46" y="404" width="8.7" height="9.2" fill="#c0c0c3"/>
<rect x="6.2" y="414.68" width="60.6" height="9.2" fill="#bebdc1"/>
<rect x="68.2" y="414.68" width="8.7" height="9.2" fill="#c0c0c3"/>
<rect x="78.36" y="414.68" width="8.7" height="9.2" fill="#c0c0c3"/>
<rect x="88.53" y="414.68" width="8.7" height="9.2" fill="#c0c0c3"/>
<rect x="98.69" y="414.68" width="8.7" height="9.2" fill="#c0c0c3"/>
<rect x="108.85" y="414.68" width="8.7" height="9.2" fill="#c0c0c3"/>
<rect x="119.02" y="414.68" width="8.7" height="9.2" fill="#c0c0c3"/>
<rect x="129.18" y="414.68" width="8.7" height="9.2" fill="#c0c0c3"/>
<rect x="139.34" y="414.68" width="8.7" height="9.2" fill="#c0c0c3"/>
<rect x="149.5" y="414.68" width="8.7" height="9.2" fill="#c0c0c3"/>
<rect x="159.67" y="414.68" width="8.7" height="9.2" fill="#c0c0c3"/>
<rect x="169.83" y="414.68" width="8.7" height="9.2" fill="#c0c0c3"/>
<rect x="179.99" y="414.68" width="8.7" height="9.2" fill="#c0c0c3"/>
<rect x="190.16" y="414.68" width="8.7" height="9.2" fill="#c0c0c3"/>
<rect x="200.32" y="414.68" width="8.7" height="9.2" fill="#c0c0c3"/>
<rect x="210.48" y="414.68" width="8.7" height="9.2" fill="#c0c0c3"/>
<rect x="220.64" y="414.68" width="8.7" height="9.2" fill="#c0c0c3"/>
<rect x="230.81" y="414.68" width="8.7" height="9.2" fill="#c0c0c3"/>
<rect x="240.97" y="414.68" width="8.7" height="9.2" fill="#c0c0c3"/>
<rect x="251.13" y="414.68" width="8.7" height="9.2" fill="#c0c0c3"/>
<rect x="261.3" y="414.68" width="8.7" height="9.2" fill="#c0c0c3"/>
<rect x="271.46" y="414.68" width="8.7" height="9.2" fill="#c0c0c3"/>
<rect x="281.62" y="414.68" width="8.7" height="9.2" fill="#c0c0c3"/>
<rect x="291.79" y="414.68" width="8.7" height="9.2" fill="#c0c0c3"/>
<rect x="301.95" y="414.68" width="8.7" height="9.2" fill="#c0c0c3"/>
<rect x="312.11" y="414.68" width="8.7" height="9.2" fill="#c0c0c3"/>
<rect x="322.28" y="414.68" width="8.7" height="9.2" fill="#c0c0c3"/>
<rect x="332.44" y="414.68" width="8.7" height="9.2" fill="#c0c0c3"/>
<rect x="342.6" y="414.68" width="8.7" height="9.2" fill="#c0c0c3"/>
<rect x="352.76" y="414.68" width="8.7" height="9.2" fill="#c0c0c3"/>
<rect x="362.93" y="414.68" width="8.7" height="9.2" fill="#c0c0c3"/>
<rect x="373.09" y="414.68" width="8.7" height="9.2" fill="#3b4858"/>
<rect x="393.8" y="414.68" width="8.7" height="9.2" fill="#c0c0c3"/>
<rect x="403.86" y="414.68" width="8.7" height="9.2" fill="#c0c0c3"/>
<rect x="413.92" y="414.68" width="8.7" height="9.2" fill="#c0c0c3"/>
<rect x="423.98" y="414.68" width="8.7" height="9.2" fill="#c0c0c3"/>
<rect x="434.04" y="414.68" width="8.7" height="9.2" fill="#c0c0c3"/>
<rect x="444.1" y="414.68" width="8.7" height="9.2" fill="#c0c0c3"/>
<rect x="454.16" y="414.68" width="8.7" height="9.2" fill="#3b4858"/>
<rect x="464.22" y="414.68" width="8.7" height="9.2" fill="#3b4858"/>
<rect x="474.28" y="414.68" width="8.7" height="9.2" fill="#c0c0c3"/>
<rect x="484.34" y="414.68" width="8.7" height="9.2" fill="#c0c0c3"/>
<rect x="494.4" y="414.68" width="8.7" height="9.2" fill="#c0c0c3"/>
<rect x="504.46" y="414.68" width="8.7" height="9.2" fill="#c0c0c3"/>
<rect x="6.3" y="445.45" width="5.5" height="5.5" fill="#c8102e"/>
<rect x="6.3" y="456.75" width="5.5" height="5.5" fill="#f8921f"/>
<rect x="6.3" y="468" width="5.5" height="5.5" fill="#32b64a"/>
<rect x="6.3" y="479.25" width="5.5" height="5.5" fill="#f6c217"/>
<rect x="6.3" y="490.5" width="5.5" height="5.5" fill="#28a9e1"/>
<rect x="6.3" y="501.75" width="5.5" height="5.5" fill="#1f9a40"/>
<line x1="6.3" y1="507.25" x2="11.8" y2="501.75" stroke="#e0f5e4" stroke-width="1.3"/>
<rect x="134.3" y="445.45" width="5.5" height="5.5" fill="#e3897f"/>
<rect x="134.3" y="456.75" width="5.5" height="5.5" fill="#fdd98c"/>
<rect x="134.3" y="468" width="5.5" height="5.5" fill="#144e8c"/>
<rect x="134.3" y="479.25" width="5.5" height="5.5" fill="#17344e"/>
<line x1="134.3" y1="484.75" x2="139.8" y2="479.25" stroke="#dde8f0" stroke-width="1.1"/>
<rect x="393.6" y="445.45" width="5.5" height="5.5" fill="#c0c0c3"/>
<rect x="393.6" y="456.75" width="5.5" height="5.5" fill="#c0b098"/>
<rect x="393.6" y="468" width="5.5" height="5.5" fill="#c06c24"/>
<rect x="393.6" y="479.25" width="5.5" height="5.5" fill="#623a18"/>
<g style="opacity:0.999"><text transform="translate(194,19.9) scale(0.8862,1)" text-anchor="middle" font-size="8.5" fill="#2a2a2a" stroke="#2a2a2a" stroke-width="0.08">CASES WITH COMPLETE MOLECULAR PROFILING</text>
<text transform="translate(453.9,15.4) scale(0.8929,1)" text-anchor="middle" font-size="8.5" fill="#2a2a2a" stroke="#2a2a2a" stroke-width="0.08">CASES WITH INCOMPLETE</text>
<text transform="translate(453.6,24.6) scale(0.9024,1)" text-anchor="middle" font-size="8.5" fill="#2a2a2a" stroke="#2a2a2a" stroke-width="0.08">MOLECULAR PROFILING</text>
<text transform="translate(36.5,37.4) scale(0.87,1)" text-anchor="middle" font-size="8.4" fill="#2a2a2a" stroke="#2a2a2a" stroke-width="0.08">Sequencing</text>
<text transform="translate(36.5,48.08) scale(0.87,1)" text-anchor="middle" font-size="8.4" fill="#2a2a2a" stroke="#2a2a2a" stroke-width="0.08">Diagnosis</text>
<text transform="translate(36.5,58.76) scale(0.87,1)" text-anchor="middle" font-size="8.4" fill="#2a2a2a" stroke="#2a2a2a" stroke-width="0.08">Patient ID#</text>
<text transform="translate(72.55,58.81) scale(0.95,1)" text-anchor="middle" font-size="8.4" fill="#363636" stroke="#363636" stroke-width="0.05">23</text>
<text transform="translate(82.71,58.81) scale(0.95,1)" text-anchor="middle" font-size="8.4" fill="#363636" stroke="#363636" stroke-width="0.05">25</text>
<text transform="translate(92.88,58.81) scale(0.95,1)" text-anchor="middle" font-size="8.4" fill="#363636" stroke="#363636" stroke-width="0.05">33</text>
<text transform="translate(103.04,58.81) scale(0.95,1)" text-anchor="middle" font-size="8.4" fill="#363636" stroke="#363636" stroke-width="0.05">35</text>
<text transform="translate(113.2,58.81) scale(0.95,1)" text-anchor="middle" font-size="8.4" fill="#363636" stroke="#363636" stroke-width="0.05">36</text>
<text transform="translate(123.36,58.81) scale(0.95,1)" text-anchor="middle" font-size="8.4" fill="#363636" stroke="#363636" stroke-width="0.05">29</text>
<text transform="translate(133.53,58.81) scale(0.95,1)" text-anchor="middle" font-size="8.4" fill="#363636" stroke="#363636" stroke-width="0.05">12</text>
<text transform="translate(143.69,58.81) scale(0.95,1)" text-anchor="middle" font-size="8.4" fill="#363636" stroke="#363636" stroke-width="0.05">9</text>
<text transform="translate(153.85,58.81) scale(0.95,1)" text-anchor="middle" font-size="8.4" fill="#363636" stroke="#363636" stroke-width="0.05">41</text>
<text transform="translate(164.02,58.81) scale(0.95,1)" text-anchor="middle" font-size="8.4" fill="#363636" stroke="#363636" stroke-width="0.05">2</text>
<text transform="translate(174.18,58.81) scale(0.95,1)" text-anchor="middle" font-size="8.4" fill="#363636" stroke="#363636" stroke-width="0.05">4</text>
<text transform="translate(184.34,58.81) scale(0.95,1)" text-anchor="middle" font-size="8.4" fill="#363636" stroke="#363636" stroke-width="0.05">17</text>
<text transform="translate(194.51,58.81) scale(0.95,1)" text-anchor="middle" font-size="8.4" fill="#363636" stroke="#363636" stroke-width="0.05">37</text>
<text transform="translate(204.67,58.81) scale(0.95,1)" text-anchor="middle" font-size="8.4" fill="#363636" stroke="#363636" stroke-width="0.05">3</text>
<text transform="translate(214.83,58.81) scale(0.95,1)" text-anchor="middle" font-size="8.4" fill="#363636" stroke="#363636" stroke-width="0.05">10</text>
<text transform="translate(224.99,58.81) scale(0.95,1)" text-anchor="middle" font-size="8.4" fill="#363636" stroke="#363636" stroke-width="0.05">14</text>
<text transform="translate(235.16,58.81) scale(0.95,1)" text-anchor="middle" font-size="8.4" fill="#363636" stroke="#363636" stroke-width="0.05">38</text>
<text transform="translate(245.32,58.81) scale(0.95,1)" text-anchor="middle" font-size="8.4" fill="#363636" stroke="#363636" stroke-width="0.05">31</text>
<text transform="translate(255.48,58.81) scale(0.95,1)" text-anchor="middle" font-size="8.4" fill="#363636" stroke="#363636" stroke-width="0.05">34</text>
<text transform="translate(265.65,58.81) scale(0.95,1)" text-anchor="middle" font-size="8.4" fill="#363636" stroke="#363636" stroke-width="0.05">8</text>
<text transform="translate(275.81,58.81) scale(0.95,1)" text-anchor="middle" font-size="8.4" fill="#363636" stroke="#363636" stroke-width="0.05">11</text>
<text transform="translate(285.97,58.81) scale(0.95,1)" text-anchor="middle" font-size="8.4" fill="#363636" stroke="#363636" stroke-width="0.05">19</text>
<text transform="translate(296.14,58.81) scale(0.95,1)" text-anchor="middle" font-size="8.4" fill="#363636" stroke="#363636" stroke-width="0.05">16</text>
<text transform="translate(306.3,58.81) scale(0.95,1)" text-anchor="middle" font-size="8.4" fill="#363636" stroke="#363636" stroke-width="0.05">24</text>
<text transform="translate(316.46,58.81) scale(0.95,1)" text-anchor="middle" font-size="8.4" fill="#363636" stroke="#363636" stroke-width="0.05">32</text>
<text transform="translate(326.63,58.81) scale(0.95,1)" text-anchor="middle" font-size="8.4" fill="#363636" stroke="#363636" stroke-width="0.05">1</text>
<text transform="translate(336.79,58.81) scale(0.95,1)" text-anchor="middle" font-size="8.4" fill="#363636" stroke="#363636" stroke-width="0.05">39</text>
<text transform="translate(346.95,58.81) scale(0.95,1)" text-anchor="middle" font-size="8.4" fill="#363636" stroke="#363636" stroke-width="0.05">40</text>
<text transform="translate(357.11,58.81) scale(0.95,1)" text-anchor="middle" font-size="8.4" fill="#363636" stroke="#363636" stroke-width="0.05">42</text>
<text transform="translate(367.28,58.81) scale(0.95,1)" text-anchor="middle" font-size="8.4" fill="#363636" stroke="#363636" stroke-width="0.05">43</text>
<text transform="translate(377.44,58.81) scale(0.95,1)" text-anchor="middle" font-size="8.4" fill="#363636" stroke="#363636" stroke-width="0.05">28</text>
<text transform="translate(398.15,58.81) scale(0.95,1)" text-anchor="middle" font-size="8.4" fill="#363636" stroke="#363636" stroke-width="0.05">18</text>
<text transform="translate(408.21,58.81) scale(0.95,1)" text-anchor="middle" font-size="8.4" fill="#363636" stroke="#363636" stroke-width="0.05">26</text>
<text transform="translate(418.27,58.81) scale(0.95,1)" text-anchor="middle" font-size="8.4" fill="#363636" stroke="#363636" stroke-width="0.05">27</text>
<text transform="translate(428.33,58.81) scale(0.95,1)" text-anchor="middle" font-size="8.4" fill="#363636" stroke="#363636" stroke-width="0.05">15</text>
<text transform="translate(438.39,58.81) scale(0.95,1)" text-anchor="middle" font-size="8.4" fill="#363636" stroke="#363636" stroke-width="0.05">21</text>
<text transform="translate(448.45,58.81) scale(0.95,1)" text-anchor="middle" font-size="8.4" fill="#363636" stroke="#363636" stroke-width="0.05">30</text>
<text transform="translate(458.51,58.81) scale(0.95,1)" text-anchor="middle" font-size="8.4" fill="#363636" stroke="#363636" stroke-width="0.05">20</text>
<text transform="translate(468.57,58.81) scale(0.95,1)" text-anchor="middle" font-size="8.4" fill="#363636" stroke="#363636" stroke-width="0.05">5</text>
<text transform="translate(478.63,58.81) scale(0.95,1)" text-anchor="middle" font-size="8.4" fill="#363636" stroke="#363636" stroke-width="0.05">13</text>
<text transform="translate(488.69,58.81) scale(0.95,1)" text-anchor="middle" font-size="8.4" fill="#363636" stroke="#363636" stroke-width="0.05">22</text>
<text transform="translate(498.75,58.81) scale(0.95,1)" text-anchor="middle" font-size="8.4" fill="#363636" stroke="#363636" stroke-width="0.05">6</text>
<text transform="translate(508.81,58.81) scale(0.95,1)" text-anchor="middle" font-size="8.4" fill="#363636" stroke="#363636" stroke-width="0.05">7</text>
<text transform="translate(36.5,69.44) scale(0.87,1)" text-anchor="middle" font-size="8.4" fill="#2a2a2a" stroke="#2a2a2a" stroke-width="0.08">Langerin exp.</text>
<text transform="translate(36.5,80.12) scale(0.9,1)" text-anchor="middle" font-size="8.4" font-style="italic" fill="#2a2a2a" stroke="#2a2a2a" stroke-width="0.08">BRAF</text>
<text transform="translate(36.5,90.8) scale(0.9,1)" text-anchor="middle" font-size="8.4" font-style="italic" fill="#2a2a2a" stroke="#2a2a2a" stroke-width="0.08">KRAS</text>
<text transform="translate(36.5,101.48) scale(0.9,1)" text-anchor="middle" font-size="8.4" font-style="italic" fill="#2a2a2a" stroke="#2a2a2a" stroke-width="0.08">MAP2K1</text>
<text transform="translate(36.5,112.16) scale(0.9,1)" text-anchor="middle" font-size="8.4" font-style="italic" fill="#2a2a2a" stroke="#2a2a2a" stroke-width="0.08">NF1</text>
<text transform="translate(36.5,122.84) scale(0.9,1)" text-anchor="middle" font-size="8.4" font-style="italic" fill="#2a2a2a" stroke="#2a2a2a" stroke-width="0.08">NRAS</text>
<text transform="translate(36.5,133.52) scale(0.9,1)" text-anchor="middle" font-size="8.4" font-style="italic" fill="#2a2a2a" stroke="#2a2a2a" stroke-width="0.08">TET2</text>
<text transform="translate(36.5,144.2) scale(0.9,1)" text-anchor="middle" font-size="8.4" font-style="italic" fill="#2a2a2a" stroke="#2a2a2a" stroke-width="0.08">DNM3TA</text>
<text transform="translate(36.5,154.88) scale(0.9,1)" text-anchor="middle" font-size="8.4" font-style="italic" fill="#2a2a2a" stroke="#2a2a2a" stroke-width="0.08">ASXL1</text>
<text transform="translate(36.5,165.56) scale(0.9,1)" text-anchor="middle" font-size="8.4" font-style="italic" fill="#2a2a2a" stroke="#2a2a2a" stroke-width="0.08">TP53</text>
<text transform="translate(36.5,176.24) scale(0.9,1)" text-anchor="middle" font-size="8.4" font-style="italic" fill="#2a2a2a" stroke="#2a2a2a" stroke-width="0.08">U2AF1</text>
<text transform="translate(36.5,186.92) scale(0.9,1)" text-anchor="middle" font-size="8.4" font-style="italic" fill="#2a2a2a" stroke="#2a2a2a" stroke-width="0.08">SRSF2</text>
<text transform="translate(36.5,197.6) scale(0.9,1)" text-anchor="middle" font-size="8.4" font-style="italic" fill="#2a2a2a" stroke="#2a2a2a" stroke-width="0.08">STAG2</text>
<text transform="translate(36.5,208.28) scale(0.9,1)" text-anchor="middle" font-size="8.4" font-style="italic" fill="#2a2a2a" stroke="#2a2a2a" stroke-width="0.08">SF3B1</text>
<text transform="translate(36.5,218.96) scale(0.9,1)" text-anchor="middle" font-size="8.4" font-style="italic" fill="#2a2a2a" stroke="#2a2a2a" stroke-width="0.08">CEBPA</text>
<text transform="translate(36.5,229.64) scale(0.9,1)" text-anchor="middle" font-size="8.4" font-style="italic" fill="#2a2a2a" stroke="#2a2a2a" stroke-width="0.08">CBL</text>
<text transform="translate(36.5,240.32) scale(0.9,1)" text-anchor="middle" font-size="8.4" font-style="italic" fill="#2a2a2a" stroke="#2a2a2a" stroke-width="0.08">ZRSR2</text>
<text transform="translate(36.5,251) scale(0.9,1)" text-anchor="middle" font-size="8.4" font-style="italic" fill="#2a2a2a" stroke="#2a2a2a" stroke-width="0.08">IDH2</text>
<text transform="translate(36.5,261.68) scale(0.9,1)" text-anchor="middle" font-size="8.4" font-style="italic" fill="#2a2a2a" stroke="#2a2a2a" stroke-width="0.08">NOTCH1</text>
<text transform="translate(36.5,272.36) scale(0.9,1)" text-anchor="middle" font-size="8.4" font-style="italic" fill="#2a2a2a" stroke="#2a2a2a" stroke-width="0.08">ETV6</text>
<text transform="translate(36.5,283.04) scale(0.9,1)" text-anchor="middle" font-size="8.4" font-style="italic" fill="#2a2a2a" stroke="#2a2a2a" stroke-width="0.08">TERT</text>
<text transform="translate(36.5,293.72) scale(0.9,1)" text-anchor="middle" font-size="8.4" font-style="italic" fill="#2a2a2a" stroke="#2a2a2a" stroke-width="0.08">EZH2</text>
<text transform="translate(36.5,304.4) scale(0.9,1)" text-anchor="middle" font-size="8.4" font-style="italic" fill="#2a2a2a" stroke="#2a2a2a" stroke-width="0.08">PTEN</text>
<text transform="translate(36.5,315.08) scale(0.9,1)" text-anchor="middle" font-size="8.4" font-style="italic" fill="#2a2a2a" stroke="#2a2a2a" stroke-width="0.08">TSC2</text>
<text transform="translate(36.5,325.76) scale(0.9,1)" text-anchor="middle" font-size="8.4" font-style="italic" fill="#2a2a2a" stroke="#2a2a2a" stroke-width="0.08">CREBBP</text>
<text transform="translate(36.5,336.44) scale(0.9,1)" text-anchor="middle" font-size="8.4" font-style="italic" fill="#2a2a2a" stroke="#2a2a2a" stroke-width="0.08">EP300</text>
<text transform="translate(36.5,347.12) scale(0.9,1)" text-anchor="middle" font-size="8.4" font-style="italic" fill="#2a2a2a" stroke="#2a2a2a" stroke-width="0.08">TNFRSF14</text>
<text transform="translate(36.5,357.8) scale(0.9,1)" text-anchor="middle" font-size="8.4" font-style="italic" fill="#2a2a2a" stroke="#2a2a2a" stroke-width="0.08">CD79B</text>
<text transform="translate(36.5,368.48) scale(0.9,1)" text-anchor="middle" font-size="8.4" font-style="italic" fill="#2a2a2a" stroke="#2a2a2a" stroke-width="0.08">MEF2B</text>
<text transform="translate(36.5,379.16) scale(0.9,1)" text-anchor="middle" font-size="8.4" fill="#2a2a2a" stroke="#2a2a2a" stroke-width="0.08"><tspan font-style="italic">NCOA2</tspan> FUSION</text>
<text transform="translate(36.5,389.84) scale(0.9,1)" text-anchor="middle" font-size="8.4" fill="#2a2a2a" stroke="#2a2a2a" stroke-width="0.08"><tspan font-style="italic">NTRK1</tspan> FUSION</text>
<text transform="translate(36.5,400.52) scale(0.9,1)" text-anchor="middle" font-size="8.4" fill="#2a2a2a" stroke="#2a2a2a" stroke-width="0.08"><tspan font-style="italic">BRAF</tspan> FUSION</text>
<text transform="translate(36.5,411.2) scale(0.9,1)" text-anchor="middle" font-size="8.4" fill="#2a2a2a" stroke="#2a2a2a" stroke-width="0.08"><tspan font-style="italic">BCL2</tspan> FUSION</text>
<text transform="translate(36.5,421.88) scale(0.87,1)" text-anchor="middle" font-size="8.4" fill="#2a2a2a" stroke="#2a2a2a" stroke-width="0.08">Wild type</text>
<text transform="translate(6.2,439.5) scale(0.9361,1)" text-anchor="start" font-size="7.9" fill="#2a2a2a" stroke="#2a2a2a" stroke-width="0.05">Sequencing panel</text>
<text transform="translate(15,450.7) scale(0.9535,1)" text-anchor="start" font-size="7.9" fill="#2a2a2a" stroke="#2a2a2a" stroke-width="0.05">Targeted DNA/RNA seq</text>
<text transform="translate(15,462) scale(0.9228,1)" text-anchor="start" font-size="7.9" fill="#2a2a2a" stroke="#2a2a2a" stroke-width="0.05">Targeted BRAF seq only</text>
<text transform="translate(15,473.25) scale(0.9382,1)" text-anchor="start" font-size="7.9" fill="#2a2a2a" stroke="#2a2a2a" stroke-width="0.05">Targeted DNA seq only</text>
<text transform="translate(15,484.5) scale(0.9382,1)" text-anchor="start" font-size="7.9" fill="#2a2a2a" stroke="#2a2a2a" stroke-width="0.05">Targeted RNA seq only</text>
<text transform="translate(15,495.75) scale(0.9197,1)" text-anchor="start" font-size="7.9" fill="#2a2a2a" stroke="#2a2a2a" stroke-width="0.05">Insufficient tissue or failed analysis</text>
<text transform="translate(15,507) scale(0.9484,1)" text-anchor="start" font-size="7.9" fill="#2a2a2a" stroke="#2a2a2a" stroke-width="0.05">Multiple hits</text>
<text transform="translate(134.3,439.5) scale(0.933,1)" text-anchor="start" font-size="7.9" fill="#2a2a2a" stroke="#2a2a2a" stroke-width="0.05">Clinical subgroups</text>
<text transform="translate(143,450.7) scale(0.9484,1)" text-anchor="start" font-size="7.9" fill="#2a2a2a" stroke="#2a2a2a" stroke-width="0.05">Primary IDCH</text>
<text transform="translate(143,462) scale(0.9361,1)" text-anchor="start" font-size="7.9" fill="#2a2a2a" stroke="#2a2a2a" stroke-width="0.05">Secondary IDCH associated with a lymphoid neoplasm</text>
<text transform="translate(143,473.25) scale(0.933,1)" text-anchor="start" font-size="7.9" fill="#2a2a2a" stroke="#2a2a2a" stroke-width="0.05">Secondary IDCH associated with a myeloid neoplasm</text>
<text transform="translate(143,484.5) scale(0.931,1)" text-anchor="start" font-size="7.9" fill="#2a2a2a" stroke="#2a2a2a" stroke-width="0.05">Secondary IDCH associated with both myeloid and lymphoid neoplasms</text>
<text transform="translate(393.6,439.5) scale(0.9433,1)" text-anchor="start" font-size="7.9" fill="#2a2a2a" stroke="#2a2a2a" stroke-width="0.05">Langerin IHC</text>
<text transform="translate(402.1,450.7) scale(0.9207,1)" text-anchor="start" font-size="7.9" fill="#2a2a2a" stroke="#2a2a2a" stroke-width="0.05">Langerin is negative</text>
<text transform="translate(402.1,462) scale(0.9402,1)" text-anchor="start" font-size="7.9" fill="#2a2a2a" stroke="#2a2a2a" stroke-width="0.05">Langerin expression 1%≤ - &lt;5%</text>
<text transform="translate(402.1,473.25) scale(0.9382,1)" text-anchor="start" font-size="7.9" fill="#2a2a2a" stroke="#2a2a2a" stroke-width="0.05">Langerin expression 5%≤ - &lt;10%</text>
<text transform="translate(402.1,484.5) scale(0.9402,1)" text-anchor="start" font-size="7.9" fill="#2a2a2a" stroke="#2a2a2a" stroke-width="0.05">Langerin expression 10%≤ - &lt;20%</text></g>
<rect x="0.5" y="0.5" width="519" height="514" fill="none" stroke="#5c5c60" stroke-width="1"/>
</svg>
</body></html>
